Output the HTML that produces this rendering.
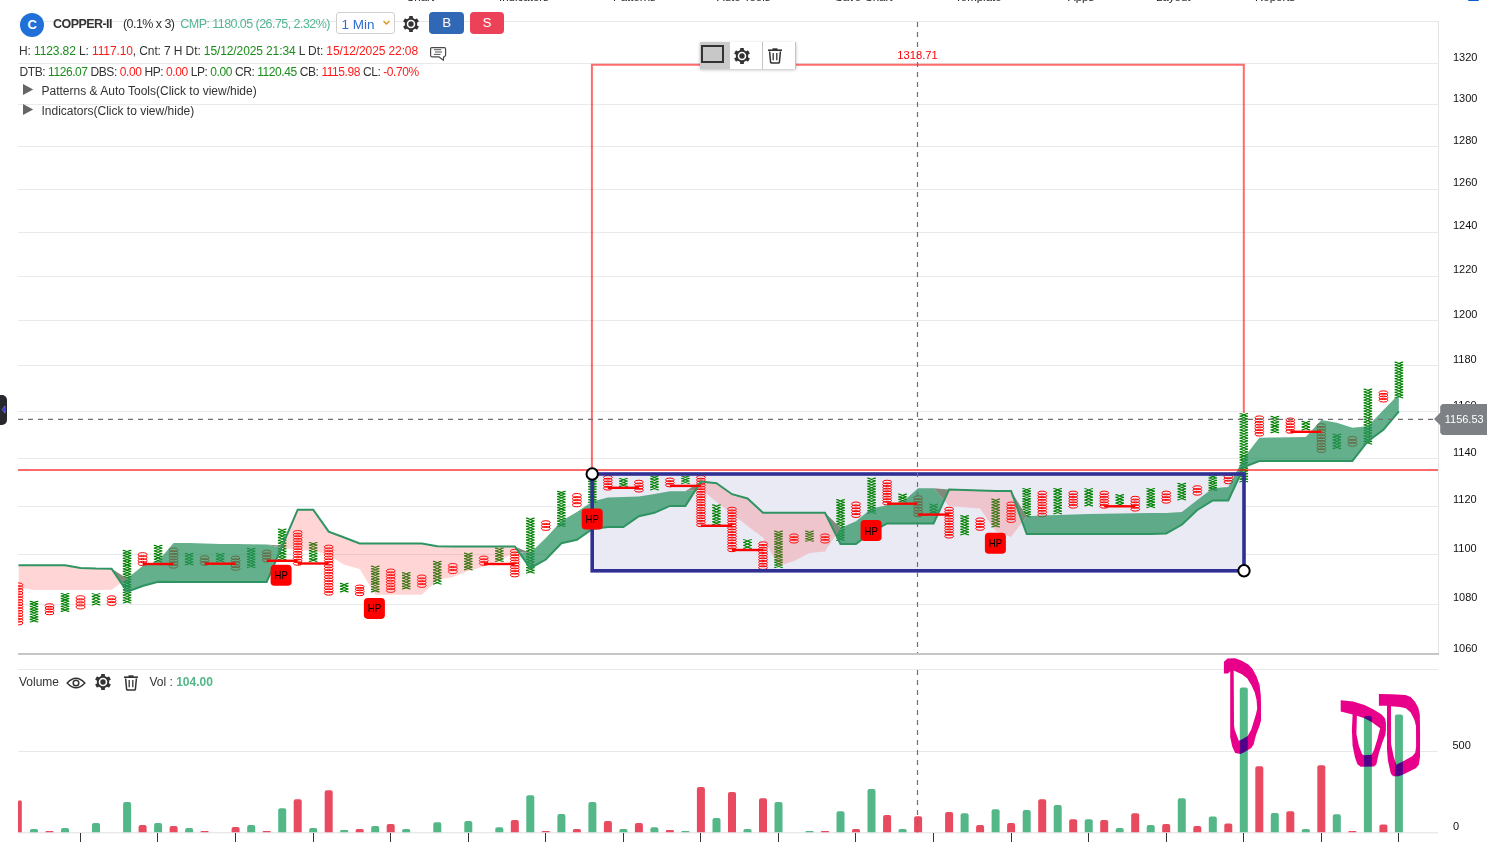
<!DOCTYPE html>
<html><head><meta charset="utf-8">
<style>
html,body{margin:0;padding:0;background:#fff;width:1487px;height:842px;overflow:hidden;font-family:"Liberation Sans",sans-serif;}
.abs{position:absolute;white-space:nowrap;}
svg text{font-family:"Liberation Sans",sans-serif;}
.ax{font-size:11px;fill:#111;}
.lbl{font-size:11.2px;fill:#ff0000;}
.hp{font-size:11px;fill:#000;}
.tag{font-size:11px;fill:#fff;}
.g{color:#1a8c1a} .r{color:#ff1a1a} .d{color:#333}
</style></head><body>
<svg class="abs" style="left:0;top:0" width="1487" height="842" viewBox="0 0 1487 842">
<defs><clipPath id="mainclip"><rect x="18" y="21" width="1420" height="632"/></clipPath></defs>
<line x1="18" y1="604.5" x2="1438" y2="604.5" stroke="#e8eaed" stroke-width="1"/>
<line x1="18" y1="554.5" x2="1438" y2="554.5" stroke="#e8eaed" stroke-width="1"/>
<line x1="18" y1="506.5" x2="1438" y2="506.5" stroke="#e8eaed" stroke-width="1"/>
<line x1="18" y1="458.5" x2="1438" y2="458.5" stroke="#e8eaed" stroke-width="1"/>
<line x1="18" y1="411.5" x2="1438" y2="411.5" stroke="#e8eaed" stroke-width="1"/>
<line x1="18" y1="365.5" x2="1438" y2="365.5" stroke="#e8eaed" stroke-width="1"/>
<line x1="18" y1="320.5" x2="1438" y2="320.5" stroke="#e8eaed" stroke-width="1"/>
<line x1="18" y1="276.5" x2="1438" y2="276.5" stroke="#e8eaed" stroke-width="1"/>
<line x1="18" y1="232.5" x2="1438" y2="232.5" stroke="#e8eaed" stroke-width="1"/>
<line x1="18" y1="189.5" x2="1438" y2="189.5" stroke="#e8eaed" stroke-width="1"/>
<line x1="18" y1="146.5" x2="1438" y2="146.5" stroke="#e8eaed" stroke-width="1"/>
<line x1="18" y1="104.5" x2="1438" y2="104.5" stroke="#e8eaed" stroke-width="1"/>
<line x1="18" y1="63.5" x2="1438" y2="63.5" stroke="#e8eaed" stroke-width="1"/>
<line x1="18" y1="21.5" x2="1438.5" y2="21.5" stroke="#e8e8e8" stroke-width="1"/>
<line x1="1438.5" y1="21" x2="1438.5" y2="654" stroke="#e4e4e4" stroke-width="1"/>
<line x1="18" y1="654" x2="1439" y2="654" stroke="#c6c6c6" stroke-width="2"/>
<line x1="18" y1="669.5" x2="1438" y2="669.5" stroke="#e6e8eb" stroke-width="1"/>
<line x1="18" y1="751.5" x2="1438" y2="751.5" stroke="#e6e8eb" stroke-width="1"/>
<line x1="18" y1="832.8" x2="1438" y2="832.8" stroke="#e0e0e0" stroke-width="1"/>
<text x="1453" y="651.8" class="ax">1060</text>
<text x="1453" y="601.4" class="ax">1080</text>
<text x="1453" y="552.0" class="ax">1100</text>
<text x="1453" y="503.4" class="ax">1120</text>
<text x="1453" y="455.7" class="ax">1140</text>
<text x="1453" y="408.9" class="ax">1160</text>
<text x="1453" y="362.8" class="ax">1180</text>
<text x="1453" y="317.6" class="ax">1200</text>
<text x="1453" y="273.0" class="ax">1220</text>
<text x="1453" y="229.2" class="ax">1240</text>
<text x="1453" y="186.1" class="ax">1260</text>
<text x="1453" y="143.7" class="ax">1280</text>
<text x="1453" y="101.9" class="ax">1300</text>
<text x="1453" y="60.8" class="ax">1320</text>
<text x="1452.5" y="749.3" class="ax">500</text>
<text x="1453" y="830" class="ax">0</text>
<line x1="80.5" y1="833" x2="80.5" y2="842" stroke="#333" stroke-width="1"/>
<line x1="157.5" y1="833" x2="157.5" y2="842" stroke="#333" stroke-width="1"/>
<line x1="235.5" y1="833" x2="235.5" y2="842" stroke="#333" stroke-width="1"/>
<line x1="313.5" y1="833" x2="313.5" y2="842" stroke="#333" stroke-width="1"/>
<line x1="390.5" y1="833" x2="390.5" y2="842" stroke="#333" stroke-width="1"/>
<line x1="468.5" y1="833" x2="468.5" y2="842" stroke="#333" stroke-width="1"/>
<line x1="545.5" y1="833" x2="545.5" y2="842" stroke="#333" stroke-width="1"/>
<line x1="623.5" y1="833" x2="623.5" y2="842" stroke="#333" stroke-width="1"/>
<line x1="700.5" y1="833" x2="700.5" y2="842" stroke="#333" stroke-width="1"/>
<line x1="778.5" y1="833" x2="778.5" y2="842" stroke="#333" stroke-width="1"/>
<line x1="855.5" y1="833" x2="855.5" y2="842" stroke="#333" stroke-width="1"/>
<line x1="933.5" y1="833" x2="933.5" y2="842" stroke="#333" stroke-width="1"/>
<line x1="1011.5" y1="833" x2="1011.5" y2="842" stroke="#333" stroke-width="1"/>
<line x1="1088.5" y1="833" x2="1088.5" y2="842" stroke="#333" stroke-width="1"/>
<line x1="1166.5" y1="833" x2="1166.5" y2="842" stroke="#333" stroke-width="1"/>
<line x1="1243.5" y1="833" x2="1243.5" y2="842" stroke="#333" stroke-width="1"/>
<line x1="1321.5" y1="833" x2="1321.5" y2="842" stroke="#333" stroke-width="1"/>
<line x1="1398.5" y1="833" x2="1398.5" y2="842" stroke="#333" stroke-width="1"/>
<polyline points="591.9,470 591.9,64.8 1243.8,64.8 1243.8,413" fill="none" stroke="#ff0000" stroke-opacity="0.58" stroke-width="2"/>
<text x="917.5" y="59.2" class="lbl" text-anchor="middle">1318.71</text>
<rect x="592.2" y="474" width="651.8" height="96.8" fill="#eaeaf5" stroke="none"/>
<clipPath id="above"><polygon points="18.5,0 18.5,565.3 34.0,565.3 49.5,565.3 65.0,565.3 80.5,568.0 96.0,568.6 111.6,568.8 127.1,591.8 142.6,586.0 158.1,581.7 173.6,581.9 189.1,581.9 204.6,581.9 220.1,581.9 235.6,581.9 251.2,581.9 266.7,581.9 282.2,545.8 297.7,509.7 313.2,509.7 328.7,531.6 344.2,537.5 359.7,543.5 375.2,543.5 390.7,543.5 406.2,543.5 421.8,543.5 437.3,546.3 452.8,546.5 468.3,546.5 483.8,546.5 499.3,546.5 514.8,546.5 530.3,568.1 545.8,559.5 561.4,543.2 576.9,539.8 592.4,529.0 607.9,527.0 623.4,527.0 638.9,516.2 654.4,512.8 669.9,505.9 685.4,505.9 700.9,481.6 716.5,483.3 732.0,494.2 747.5,498.5 763.0,512.7 778.5,512.7 794.0,512.7 809.5,512.7 825.0,512.7 840.5,544.1 856.0,544.1 871.5,532.0 887.1,523.4 902.6,523.4 918.1,523.4 933.6,523.4 949.1,489.6 964.6,490.0 980.1,490.6 995.6,491.0 1011.1,491.1 1026.7,534.1 1042.2,534.1 1057.7,534.1 1073.2,534.1 1088.7,534.1 1104.2,534.1 1119.7,534.1 1135.2,534.1 1150.7,534.1 1166.2,533.4 1181.8,524.8 1197.3,510.0 1212.8,500.4 1228.3,500.4 1243.8,467.0 1259.3,461.0 1274.8,460.9 1290.3,460.9 1305.8,460.9 1321.3,460.9 1336.8,460.9 1352.4,460.9 1367.9,441.2 1383.4,429.8 1398.9,411.3 1398.9,0"/></clipPath>
<clipPath id="below"><polygon points="18.5,842 18.5,565.3 34.0,565.3 49.5,565.3 65.0,565.3 80.5,568.0 96.0,568.6 111.6,568.8 127.1,591.8 142.6,586.0 158.1,581.7 173.6,581.9 189.1,581.9 204.6,581.9 220.1,581.9 235.6,581.9 251.2,581.9 266.7,581.9 282.2,545.8 297.7,509.7 313.2,509.7 328.7,531.6 344.2,537.5 359.7,543.5 375.2,543.5 390.7,543.5 406.2,543.5 421.8,543.5 437.3,546.3 452.8,546.5 468.3,546.5 483.8,546.5 499.3,546.5 514.8,546.5 530.3,568.1 545.8,559.5 561.4,543.2 576.9,539.8 592.4,529.0 607.9,527.0 623.4,527.0 638.9,516.2 654.4,512.8 669.9,505.9 685.4,505.9 700.9,481.6 716.5,483.3 732.0,494.2 747.5,498.5 763.0,512.7 778.5,512.7 794.0,512.7 809.5,512.7 825.0,512.7 840.5,544.1 856.0,544.1 871.5,532.0 887.1,523.4 902.6,523.4 918.1,523.4 933.6,523.4 949.1,489.6 964.6,490.0 980.1,490.6 995.6,491.0 1011.1,491.1 1026.7,534.1 1042.2,534.1 1057.7,534.1 1073.2,534.1 1088.7,534.1 1104.2,534.1 1119.7,534.1 1135.2,534.1 1150.7,534.1 1166.2,533.4 1181.8,524.8 1197.3,510.0 1212.8,500.4 1228.3,500.4 1243.8,467.0 1259.3,461.0 1274.8,460.9 1290.3,460.9 1305.8,460.9 1321.3,460.9 1336.8,460.9 1352.4,460.9 1367.9,441.2 1383.4,429.8 1398.9,411.3 1398.9,842"/></clipPath>
<g clip-path="url(#mainclip)"><g stroke="#ff0000" stroke-width="1.0" fill="none"><ellipse cx="18.5" cy="584.77" rx="4.4" ry="1.86"/><ellipse cx="18.5" cy="587.50" rx="4.4" ry="1.86"/><ellipse cx="18.5" cy="590.23" rx="4.4" ry="1.86"/><ellipse cx="18.5" cy="592.97" rx="4.4" ry="1.86"/><ellipse cx="18.5" cy="595.70" rx="4.4" ry="1.86"/><ellipse cx="18.5" cy="598.43" rx="4.4" ry="1.86"/><ellipse cx="18.5" cy="601.17" rx="4.4" ry="1.86"/><ellipse cx="18.5" cy="603.90" rx="4.4" ry="1.86"/><ellipse cx="18.5" cy="606.63" rx="4.4" ry="1.86"/><ellipse cx="18.5" cy="609.37" rx="4.4" ry="1.86"/><ellipse cx="18.5" cy="612.10" rx="4.4" ry="1.86"/><ellipse cx="18.5" cy="614.83" rx="4.4" ry="1.86"/><ellipse cx="18.5" cy="617.57" rx="4.4" ry="1.86"/><ellipse cx="18.5" cy="620.30" rx="4.4" ry="1.86"/><ellipse cx="18.5" cy="623.03" rx="4.4" ry="1.86"/></g><path d="M29.71 601.30C32.51 601.30 35.51 603.89 38.31 603.89M38.31 601.30C35.51 601.30 32.51 603.89 29.71 603.89M29.71 603.89C32.51 603.89 35.51 606.47 38.31 606.47M38.31 603.89C35.51 603.89 32.51 606.47 29.71 606.47M29.71 606.47C32.51 606.47 35.51 609.06 38.31 609.06M38.31 606.47C35.51 606.47 32.51 609.06 29.71 609.06M29.71 609.06C32.51 609.06 35.51 611.65 38.31 611.65M38.31 609.06C35.51 609.06 32.51 611.65 29.71 611.65M29.71 611.65C32.51 611.65 35.51 614.24 38.31 614.24M38.31 611.65C35.51 611.65 32.51 614.24 29.71 614.24M29.71 614.24C32.51 614.24 35.51 616.82 38.31 616.82M38.31 614.24C35.51 614.24 32.51 616.82 29.71 616.82M29.71 616.83C32.51 616.83 35.51 619.41 38.31 619.41M38.31 616.83C35.51 616.83 32.51 619.41 29.71 619.41M29.71 619.41C32.51 619.41 35.51 622.00 38.31 622.00M38.31 619.41C35.51 619.41 32.51 622.00 29.71 622.00" stroke="#008000" stroke-width="1.2" fill="none"/><g stroke="#ff0000" stroke-width="1.0" fill="none"><ellipse cx="49.5" cy="605.46" rx="4.4" ry="1.72"/><ellipse cx="49.5" cy="607.99" rx="4.4" ry="1.72"/><ellipse cx="49.5" cy="610.51" rx="4.4" ry="1.72"/><ellipse cx="49.5" cy="613.04" rx="4.4" ry="1.72"/></g><path d="M60.73 593.50C63.53 593.50 66.53 596.06 69.33 596.06M69.33 593.50C66.53 593.50 63.53 596.06 60.73 596.06M60.73 596.06C63.53 596.06 66.53 598.61 69.33 598.61M69.33 596.06C66.53 596.06 63.53 598.61 60.73 598.61M60.73 598.61C63.53 598.61 66.53 601.17 69.33 601.17M69.33 598.61C66.53 598.61 63.53 601.17 60.73 601.17M60.73 601.17C63.53 601.17 66.53 603.73 69.33 603.73M69.33 601.17C66.53 601.17 63.53 603.73 60.73 603.73M60.73 603.73C63.53 603.73 66.53 606.29 69.33 606.29M69.33 603.73C66.53 603.73 63.53 606.29 60.73 606.29M60.73 606.29C63.53 606.29 66.53 608.84 69.33 608.84M69.33 606.29C66.53 606.29 63.53 608.84 60.73 608.84M60.73 608.84C63.53 608.84 66.53 611.40 69.33 611.40M69.33 608.84C66.53 608.84 63.53 611.40 60.73 611.40" stroke="#008000" stroke-width="1.2" fill="none"/><g stroke="#ff0000" stroke-width="1.0" fill="none"><ellipse cx="80.5" cy="597.81" rx="4.4" ry="2.06"/><ellipse cx="80.5" cy="600.84" rx="4.4" ry="2.06"/><ellipse cx="80.5" cy="603.86" rx="4.4" ry="2.06"/><ellipse cx="80.5" cy="606.89" rx="4.4" ry="2.06"/></g><path d="M91.75 593.50C94.55 593.50 97.55 596.38 100.35 596.38M100.35 593.50C97.55 593.50 94.55 596.38 91.75 596.38M91.75 596.38C94.55 596.38 97.55 599.25 100.35 599.25M100.35 596.38C97.55 596.38 94.55 599.25 91.75 599.25M91.75 599.25C94.55 599.25 97.55 602.12 100.35 602.12M100.35 599.25C97.55 599.25 94.55 602.12 91.75 602.12M91.75 602.12C94.55 602.12 97.55 605.00 100.35 605.00M100.35 602.12C97.55 602.12 94.55 605.00 91.75 605.00" stroke="#008000" stroke-width="1.2" fill="none"/><g stroke="#ff0000" stroke-width="1.0" fill="none"><ellipse cx="111.6" cy="597.75" rx="4.4" ry="1.97"/><ellipse cx="111.6" cy="600.65" rx="4.4" ry="1.97"/><ellipse cx="111.6" cy="603.55" rx="4.4" ry="1.97"/></g><path d="M122.77 550.40C125.57 550.40 128.57 553.03 131.37 553.03M131.37 550.40C128.57 550.40 125.57 553.03 122.77 553.03M122.77 553.03C125.57 553.03 128.57 555.66 131.37 555.66M131.37 553.03C128.57 553.03 125.57 555.66 122.77 555.66M122.77 555.66C125.57 555.66 128.57 558.29 131.37 558.29M131.37 555.66C128.57 555.66 125.57 558.29 122.77 558.29M122.77 558.29C125.57 558.29 128.57 560.92 131.37 560.92M131.37 558.29C128.57 558.29 125.57 560.92 122.77 560.92M122.77 560.92C125.57 560.92 128.57 563.55 131.37 563.55M131.37 560.92C128.57 560.92 125.57 563.55 122.77 563.55M122.77 563.55C125.57 563.55 128.57 566.18 131.37 566.18M131.37 563.55C128.57 563.55 125.57 566.18 122.77 566.18M122.77 566.18C125.57 566.18 128.57 568.81 131.37 568.81M131.37 566.18C128.57 566.18 125.57 568.81 122.77 568.81M122.77 568.81C125.57 568.81 128.57 571.44 131.37 571.44M131.37 568.81C128.57 568.81 125.57 571.44 122.77 571.44M122.77 571.44C125.57 571.44 128.57 574.07 131.37 574.07M131.37 571.44C128.57 571.44 125.57 574.07 122.77 574.07M122.77 574.07C125.57 574.07 128.57 576.70 131.37 576.70M131.37 574.07C128.57 574.07 125.57 576.70 122.77 576.70M122.77 576.70C125.57 576.70 128.57 579.33 131.37 579.33M131.37 576.70C128.57 576.70 125.57 579.33 122.77 579.33M122.77 579.33C125.57 579.33 128.57 581.96 131.37 581.96M131.37 579.33C128.57 579.33 125.57 581.96 122.77 581.96M122.77 581.96C125.57 581.96 128.57 584.59 131.37 584.59M131.37 581.96C128.57 581.96 125.57 584.59 122.77 584.59M122.77 584.59C125.57 584.59 128.57 587.22 131.37 587.22M131.37 584.59C128.57 584.59 125.57 587.22 122.77 587.22M122.77 587.22C125.57 587.22 128.57 589.85 131.37 589.85M131.37 587.22C128.57 587.22 125.57 589.85 122.77 589.85M122.77 589.85C125.57 589.85 128.57 592.48 131.37 592.48M131.37 589.85C128.57 589.85 125.57 592.48 122.77 592.48M122.77 592.48C125.57 592.48 128.57 595.11 131.37 595.11M131.37 592.48C128.57 592.48 125.57 595.11 122.77 595.11M122.77 595.11C125.57 595.11 128.57 597.74 131.37 597.74M131.37 595.11C128.57 595.11 125.57 597.74 122.77 597.74M122.77 597.74C125.57 597.74 128.57 600.37 131.37 600.37M131.37 597.74C128.57 597.74 125.57 600.37 122.77 600.37M122.77 600.37C125.57 600.37 128.57 603.00 131.37 603.00M131.37 600.37C128.57 600.37 125.57 603.00 122.77 603.00" stroke="#008000" stroke-width="1.2" fill="none"/><g stroke="#ff0000" stroke-width="1.0" fill="none"><ellipse cx="142.6" cy="554.68" rx="4.4" ry="2.01"/><ellipse cx="142.6" cy="557.62" rx="4.4" ry="2.01"/><ellipse cx="142.6" cy="560.58" rx="4.4" ry="2.01"/><ellipse cx="142.6" cy="563.52" rx="4.4" ry="2.01"/></g><path d="M153.79 545.40C156.59 545.40 159.59 548.17 162.39 548.17M162.39 545.40C159.59 545.40 156.59 548.17 153.79 548.17M153.79 548.17C156.59 548.17 159.59 550.93 162.39 550.93M162.39 548.17C159.59 548.17 156.59 550.93 153.79 550.93M153.79 550.93C156.59 550.93 159.59 553.70 162.39 553.70M162.39 550.93C159.59 550.93 156.59 553.70 153.79 553.70M153.79 553.70C156.59 553.70 159.59 556.47 162.39 556.47M162.39 553.70C159.59 553.70 156.59 556.47 153.79 556.47M153.79 556.47C156.59 556.47 159.59 559.23 162.39 559.23M162.39 556.47C159.59 556.47 156.59 559.23 153.79 559.23M153.79 559.23C156.59 559.23 159.59 562.00 162.39 562.00M162.39 559.23C159.59 559.23 156.59 562.00 153.79 562.00" stroke="#008000" stroke-width="1.2" fill="none"/><g stroke="#ff0000" stroke-width="1.0" fill="none"><ellipse cx="173.6" cy="549.78" rx="4.4" ry="1.87"/><ellipse cx="173.6" cy="552.54" rx="4.4" ry="1.87"/><ellipse cx="173.6" cy="555.29" rx="4.4" ry="1.87"/><ellipse cx="173.6" cy="558.05" rx="4.4" ry="1.87"/><ellipse cx="173.6" cy="560.81" rx="4.4" ry="1.87"/><ellipse cx="173.6" cy="563.56" rx="4.4" ry="1.87"/><ellipse cx="173.6" cy="566.32" rx="4.4" ry="1.87"/></g><path d="M184.81 553.40C187.61 553.40 190.61 556.25 193.41 556.25M193.41 553.40C190.61 553.40 187.61 556.25 184.81 556.25M184.81 556.25C187.61 556.25 190.61 559.10 193.41 559.10M193.41 556.25C190.61 556.25 187.61 559.10 184.81 559.10M184.81 559.10C187.61 559.10 190.61 561.95 193.41 561.95M193.41 559.10C190.61 559.10 187.61 561.95 184.81 561.95M184.81 561.95C187.61 561.95 190.61 564.80 193.41 564.80M193.41 561.95C190.61 561.95 187.61 564.80 184.81 564.80" stroke="#008000" stroke-width="1.2" fill="none"/><g stroke="#ff0000" stroke-width="1.0" fill="none"><ellipse cx="204.6" cy="557.72" rx="4.4" ry="1.93"/><ellipse cx="204.6" cy="560.55" rx="4.4" ry="1.93"/><ellipse cx="204.6" cy="563.38" rx="4.4" ry="1.93"/></g><path d="M215.83 553.40C218.63 553.40 221.63 556.27 224.43 556.27M224.43 553.40C221.63 553.40 218.63 556.27 215.83 556.27M215.83 556.27C218.63 556.27 221.63 559.13 224.43 559.13M224.43 556.27C221.63 556.27 218.63 559.13 215.83 559.13M215.83 559.13C218.63 559.13 221.63 562.00 224.43 562.00M224.43 559.13C221.63 559.13 218.63 562.00 215.83 562.00" stroke="#008000" stroke-width="1.2" fill="none"/><g stroke="#ff0000" stroke-width="1.0" fill="none"><ellipse cx="235.6" cy="557.92" rx="4.4" ry="1.80"/><ellipse cx="235.6" cy="560.56" rx="4.4" ry="1.80"/><ellipse cx="235.6" cy="563.20" rx="4.4" ry="1.80"/><ellipse cx="235.6" cy="565.84" rx="4.4" ry="1.80"/><ellipse cx="235.6" cy="568.48" rx="4.4" ry="1.80"/></g><path d="M246.85 548.40C249.65 548.40 252.65 551.16 255.45 551.16M255.45 548.40C252.65 548.40 249.65 551.16 246.85 551.16M246.85 551.16C249.65 551.16 252.65 553.91 255.45 553.91M255.45 551.16C252.65 551.16 249.65 553.91 246.85 553.91M246.85 553.91C249.65 553.91 252.65 556.67 255.45 556.67M255.45 553.91C252.65 553.91 249.65 556.67 246.85 556.67M246.85 556.67C249.65 556.67 252.65 559.43 255.45 559.43M255.45 556.67C252.65 556.67 249.65 559.43 246.85 559.43M246.85 559.43C249.65 559.43 252.65 562.19 255.45 562.19M255.45 559.43C252.65 559.43 249.65 562.19 246.85 562.19M246.85 562.19C249.65 562.19 252.65 564.94 255.45 564.94M255.45 562.19C252.65 562.19 249.65 564.94 246.85 564.94M246.85 564.94C249.65 564.94 252.65 567.70 255.45 567.70M255.45 564.94C252.65 564.94 249.65 567.70 246.85 567.70" stroke="#008000" stroke-width="1.2" fill="none"/><g stroke="#ff0000" stroke-width="1.0" fill="none"><ellipse cx="266.7" cy="551.96" rx="4.4" ry="1.85"/><ellipse cx="266.7" cy="554.69" rx="4.4" ry="1.85"/><ellipse cx="266.7" cy="557.41" rx="4.4" ry="1.85"/><ellipse cx="266.7" cy="560.14" rx="4.4" ry="1.85"/></g><path d="M277.87 529.20C280.67 529.20 283.67 531.98 286.47 531.98M286.47 529.20C283.67 529.20 280.67 531.98 277.87 531.98M277.87 531.98C280.67 531.98 283.67 534.76 286.47 534.76M286.47 531.98C283.67 531.98 280.67 534.76 277.87 534.76M277.87 534.76C280.67 534.76 283.67 537.55 286.47 537.55M286.47 534.76C283.67 534.76 280.67 537.55 277.87 537.55M277.87 537.55C280.67 537.55 283.67 540.33 286.47 540.33M286.47 537.55C283.67 537.55 280.67 540.33 277.87 540.33M277.87 540.33C280.67 540.33 283.67 543.11 286.47 543.11M286.47 540.33C283.67 540.33 280.67 543.11 277.87 543.11M277.87 543.11C280.67 543.11 283.67 545.89 286.47 545.89M286.47 543.11C283.67 543.11 280.67 545.89 277.87 545.89M277.87 545.89C280.67 545.89 283.67 548.67 286.47 548.67M286.47 545.89C283.67 545.89 280.67 548.67 277.87 548.67M277.87 548.67C280.67 548.67 283.67 551.45 286.47 551.45M286.47 548.67C283.67 548.67 280.67 551.45 277.87 551.45M277.87 551.45C280.67 551.45 283.67 554.24 286.47 554.24M286.47 551.45C283.67 551.45 280.67 554.24 277.87 554.24M277.87 554.24C280.67 554.24 283.67 557.02 286.47 557.02M286.47 554.24C283.67 554.24 280.67 557.02 277.87 557.02M277.87 557.02C280.67 557.02 283.67 559.80 286.47 559.80M286.47 557.02C283.67 557.02 280.67 559.80 277.87 559.80" stroke="#008000" stroke-width="1.2" fill="none"/><g stroke="#ff0000" stroke-width="1.0" fill="none"><ellipse cx="297.7" cy="532.30" rx="4.4" ry="1.77"/><ellipse cx="297.7" cy="534.90" rx="4.4" ry="1.77"/><ellipse cx="297.7" cy="537.50" rx="4.4" ry="1.77"/><ellipse cx="297.7" cy="540.10" rx="4.4" ry="1.77"/><ellipse cx="297.7" cy="542.70" rx="4.4" ry="1.77"/><ellipse cx="297.7" cy="545.30" rx="4.4" ry="1.77"/><ellipse cx="297.7" cy="547.90" rx="4.4" ry="1.77"/><ellipse cx="297.7" cy="550.50" rx="4.4" ry="1.77"/><ellipse cx="297.7" cy="553.10" rx="4.4" ry="1.77"/><ellipse cx="297.7" cy="555.70" rx="4.4" ry="1.77"/><ellipse cx="297.7" cy="558.30" rx="4.4" ry="1.77"/><ellipse cx="297.7" cy="560.90" rx="4.4" ry="1.77"/><ellipse cx="297.7" cy="563.50" rx="4.4" ry="1.77"/></g><path d="M308.89 542.50C311.69 542.50 314.69 545.21 317.49 545.21M317.49 542.50C314.69 542.50 311.69 545.21 308.89 545.21M308.89 545.21C311.69 545.21 314.69 547.93 317.49 547.93M317.49 545.21C314.69 545.21 311.69 547.93 308.89 547.93M308.89 547.93C311.69 547.93 314.69 550.64 317.49 550.64M317.49 547.93C314.69 547.93 311.69 550.64 308.89 550.64M308.89 550.64C311.69 550.64 314.69 553.36 317.49 553.36M317.49 550.64C314.69 550.64 311.69 553.36 308.89 553.36M308.89 553.36C311.69 553.36 314.69 556.07 317.49 556.07M317.49 553.36C314.69 553.36 311.69 556.07 308.89 556.07M308.89 556.07C311.69 556.07 314.69 558.79 317.49 558.79M317.49 556.07C314.69 556.07 311.69 558.79 308.89 558.79M308.89 558.79C311.69 558.79 314.69 561.50 317.49 561.50M317.49 558.79C314.69 558.79 311.69 561.50 308.89 561.50" stroke="#008000" stroke-width="1.2" fill="none"/><g stroke="#ff0000" stroke-width="1.0" fill="none"><ellipse cx="328.7" cy="546.96" rx="4.4" ry="1.85"/><ellipse cx="328.7" cy="549.69" rx="4.4" ry="1.85"/><ellipse cx="328.7" cy="552.42" rx="4.4" ry="1.85"/><ellipse cx="328.7" cy="555.15" rx="4.4" ry="1.85"/><ellipse cx="328.7" cy="557.88" rx="4.4" ry="1.85"/><ellipse cx="328.7" cy="560.60" rx="4.4" ry="1.85"/><ellipse cx="328.7" cy="563.33" rx="4.4" ry="1.85"/><ellipse cx="328.7" cy="566.06" rx="4.4" ry="1.85"/><ellipse cx="328.7" cy="568.79" rx="4.4" ry="1.85"/><ellipse cx="328.7" cy="571.51" rx="4.4" ry="1.85"/><ellipse cx="328.7" cy="574.24" rx="4.4" ry="1.85"/><ellipse cx="328.7" cy="576.97" rx="4.4" ry="1.85"/><ellipse cx="328.7" cy="579.70" rx="4.4" ry="1.85"/><ellipse cx="328.7" cy="582.43" rx="4.4" ry="1.85"/><ellipse cx="328.7" cy="585.15" rx="4.4" ry="1.85"/><ellipse cx="328.7" cy="587.88" rx="4.4" ry="1.85"/><ellipse cx="328.7" cy="590.61" rx="4.4" ry="1.85"/><ellipse cx="328.7" cy="593.34" rx="4.4" ry="1.85"/></g><path d="M339.91 583.30C342.71 583.30 345.71 586.17 348.51 586.17M348.51 583.30C345.71 583.30 342.71 586.17 339.91 586.17M339.91 586.17C342.71 586.17 345.71 589.03 348.51 589.03M348.51 586.17C345.71 586.17 342.71 589.03 339.91 589.03M339.91 589.03C342.71 589.03 345.71 591.90 348.51 591.90M348.51 589.03C345.71 589.03 342.71 591.90 339.91 591.90" stroke="#008000" stroke-width="1.2" fill="none"/><g stroke="#ff0000" stroke-width="1.0" fill="none"><ellipse cx="359.7" cy="586.71" rx="4.4" ry="1.65"/><ellipse cx="359.7" cy="589.14" rx="4.4" ry="1.65"/><ellipse cx="359.7" cy="591.56" rx="4.4" ry="1.65"/><ellipse cx="359.7" cy="593.99" rx="4.4" ry="1.65"/></g><path d="M370.93 566.20C373.73 566.20 376.73 568.77 379.53 568.77M379.53 566.20C376.73 566.20 373.73 568.77 370.93 568.77M370.93 568.77C373.73 568.77 376.73 571.34 379.53 571.34M379.53 568.77C376.73 568.77 373.73 571.34 370.93 571.34M370.93 571.34C373.73 571.34 376.73 573.91 379.53 573.91M379.53 571.34C376.73 571.34 373.73 573.91 370.93 573.91M370.93 573.91C373.73 573.91 376.73 576.48 379.53 576.48M379.53 573.91C376.73 573.91 373.73 576.48 370.93 576.48M370.93 576.48C373.73 576.48 376.73 579.05 379.53 579.05M379.53 576.48C376.73 576.48 373.73 579.05 370.93 579.05M370.93 579.05C373.73 579.05 376.73 581.62 379.53 581.62M379.53 579.05C376.73 579.05 373.73 581.62 370.93 581.62M370.93 581.62C373.73 581.62 376.73 584.19 379.53 584.19M379.53 581.62C376.73 581.62 373.73 584.19 370.93 584.19M370.93 584.19C373.73 584.19 376.73 586.76 379.53 586.76M379.53 584.19C376.73 584.19 373.73 586.76 370.93 586.76M370.93 586.76C373.73 586.76 376.73 589.33 379.53 589.33M379.53 586.76C376.73 586.76 373.73 589.33 370.93 589.33M370.93 589.33C373.73 589.33 376.73 591.90 379.53 591.90M379.53 589.33C376.73 589.33 373.73 591.90 370.93 591.90" stroke="#008000" stroke-width="1.2" fill="none"/><g stroke="#ff0000" stroke-width="1.0" fill="none"><ellipse cx="390.7" cy="570.90" rx="4.4" ry="1.90"/><ellipse cx="390.7" cy="573.70" rx="4.4" ry="1.90"/><ellipse cx="390.7" cy="576.50" rx="4.4" ry="1.90"/><ellipse cx="390.7" cy="579.30" rx="4.4" ry="1.90"/><ellipse cx="390.7" cy="582.10" rx="4.4" ry="1.90"/><ellipse cx="390.7" cy="584.90" rx="4.4" ry="1.90"/><ellipse cx="390.7" cy="587.70" rx="4.4" ry="1.90"/><ellipse cx="390.7" cy="590.50" rx="4.4" ry="1.90"/></g><path d="M401.95 572.70C404.75 572.70 407.75 575.42 410.55 575.42M410.55 572.70C407.75 572.70 404.75 575.42 401.95 575.42M401.95 575.42C404.75 575.42 407.75 578.13 410.55 578.13M410.55 575.42C407.75 575.42 404.75 578.13 401.95 578.13M401.95 578.13C404.75 578.13 407.75 580.85 410.55 580.85M410.55 578.13C407.75 578.13 404.75 580.85 401.95 580.85M401.95 580.85C404.75 580.85 407.75 583.57 410.55 583.57M410.55 580.85C407.75 580.85 404.75 583.57 401.95 583.57M401.95 583.57C404.75 583.57 407.75 586.28 410.55 586.28M410.55 583.57C407.75 583.57 404.75 586.28 401.95 586.28M401.95 586.28C404.75 586.28 407.75 589.00 410.55 589.00M410.55 586.28C407.75 586.28 404.75 589.00 401.95 589.00" stroke="#008000" stroke-width="1.2" fill="none"/><g stroke="#ff0000" stroke-width="1.0" fill="none"><ellipse cx="421.8" cy="576.92" rx="4.4" ry="1.94"/><ellipse cx="421.8" cy="579.77" rx="4.4" ry="1.94"/><ellipse cx="421.8" cy="582.62" rx="4.4" ry="1.94"/><ellipse cx="421.8" cy="585.48" rx="4.4" ry="1.94"/></g><path d="M432.97 561.30C435.77 561.30 438.77 564.15 441.57 564.15M441.57 561.30C438.77 561.30 435.77 564.15 432.97 564.15M432.97 564.15C435.77 564.15 438.77 567.00 441.57 567.00M441.57 564.15C438.77 564.15 435.77 567.00 432.97 567.00M432.97 567.00C435.77 567.00 438.77 569.85 441.57 569.85M441.57 567.00C438.77 567.00 435.77 569.85 432.97 569.85M432.97 569.85C435.77 569.85 438.77 572.70 441.57 572.70M441.57 569.85C438.77 569.85 435.77 572.70 432.97 572.70M432.97 572.70C435.77 572.70 438.77 575.55 441.57 575.55M441.57 572.70C438.77 572.70 435.77 575.55 432.97 575.55M432.97 575.55C435.77 575.55 438.77 578.40 441.57 578.40M441.57 575.55C438.77 575.55 435.77 578.40 432.97 578.40M432.97 578.40C435.77 578.40 438.77 581.25 441.57 581.25M441.57 578.40C438.77 578.40 435.77 581.25 432.97 581.25M432.97 581.25C435.77 581.25 438.77 584.10 441.57 584.10M441.57 581.25C438.77 581.25 435.77 584.10 432.97 584.10" stroke="#008000" stroke-width="1.2" fill="none"/><g stroke="#ff0000" stroke-width="1.0" fill="none"><ellipse cx="452.8" cy="565.58" rx="4.4" ry="2.02"/><ellipse cx="452.8" cy="568.55" rx="4.4" ry="2.02"/><ellipse cx="452.8" cy="571.52" rx="4.4" ry="2.02"/></g><path d="M463.99 553.20C466.79 553.20 469.79 555.97 472.59 555.97M472.59 553.20C469.79 553.20 466.79 555.97 463.99 555.97M463.99 555.97C466.79 555.97 469.79 558.73 472.59 558.73M472.59 555.97C469.79 555.97 466.79 558.73 463.99 558.73M463.99 558.73C466.79 558.73 469.79 561.50 472.59 561.50M472.59 558.73C469.79 558.73 466.79 561.50 463.99 561.50M463.99 561.50C466.79 561.50 469.79 564.27 472.59 564.27M472.59 561.50C469.79 561.50 466.79 564.27 463.99 564.27M463.99 564.27C466.79 564.27 469.79 567.03 472.59 567.03M472.59 564.27C469.79 564.27 466.79 567.03 463.99 567.03M463.99 567.03C466.79 567.03 469.79 569.80 472.59 569.80M472.59 567.03C469.79 567.03 466.79 569.80 463.99 569.80" stroke="#008000" stroke-width="1.2" fill="none"/><g stroke="#ff0000" stroke-width="1.0" fill="none"><ellipse cx="483.8" cy="557.88" rx="4.4" ry="1.88"/><ellipse cx="483.8" cy="560.65" rx="4.4" ry="1.88"/><ellipse cx="483.8" cy="563.42" rx="4.4" ry="1.88"/></g><path d="M495.01 548.20C497.81 548.20 500.81 550.86 503.61 550.86M503.61 548.20C500.81 548.20 497.81 550.86 495.01 550.86M495.01 550.86C497.81 550.86 500.81 553.52 503.61 553.52M503.61 550.86C500.81 550.86 497.81 553.52 495.01 553.52M495.01 553.52C497.81 553.52 500.81 556.18 503.61 556.18M503.61 553.52C500.81 553.52 497.81 556.18 495.01 556.18M495.01 556.18C497.81 556.18 500.81 558.84 503.61 558.84M503.61 556.18C500.81 556.18 497.81 558.84 495.01 558.84M495.01 558.84C497.81 558.84 500.81 561.50 503.61 561.50M503.61 558.84C500.81 558.84 497.81 561.50 495.01 561.50" stroke="#008000" stroke-width="1.2" fill="none"/><g stroke="#ff0000" stroke-width="1.0" fill="none"><ellipse cx="514.8" cy="551.13" rx="4.4" ry="1.81"/><ellipse cx="514.8" cy="553.79" rx="4.4" ry="1.81"/><ellipse cx="514.8" cy="556.45" rx="4.4" ry="1.81"/><ellipse cx="514.8" cy="559.11" rx="4.4" ry="1.81"/><ellipse cx="514.8" cy="561.77" rx="4.4" ry="1.81"/><ellipse cx="514.8" cy="564.43" rx="4.4" ry="1.81"/><ellipse cx="514.8" cy="567.09" rx="4.4" ry="1.81"/><ellipse cx="514.8" cy="569.75" rx="4.4" ry="1.81"/><ellipse cx="514.8" cy="572.41" rx="4.4" ry="1.81"/><ellipse cx="514.8" cy="575.07" rx="4.4" ry="1.81"/></g><path d="M526.03 518.20C528.83 518.20 531.83 520.95 534.63 520.95M534.63 518.20C531.83 518.20 528.83 520.95 526.03 520.95M526.03 520.95C528.83 520.95 531.83 523.69 534.63 523.69M534.63 520.95C531.83 520.95 528.83 523.69 526.03 523.69M526.03 523.69C528.83 523.69 531.83 526.44 534.63 526.44M534.63 523.69C531.83 523.69 528.83 526.44 526.03 526.44M526.03 526.44C528.83 526.44 531.83 529.18 534.63 529.18M534.63 526.44C531.83 526.44 528.83 529.18 526.03 529.18M526.03 529.18C528.83 529.18 531.83 531.93 534.63 531.93M534.63 529.18C531.83 529.18 528.83 531.93 526.03 531.93M526.03 531.93C528.83 531.93 531.83 534.67 534.63 534.67M534.63 531.93C531.83 531.93 528.83 534.67 526.03 534.67M526.03 534.67C528.83 534.67 531.83 537.42 534.63 537.42M534.63 534.67C531.83 534.67 528.83 537.42 526.03 537.42M526.03 537.42C528.83 537.42 531.83 540.16 534.63 540.16M534.63 537.42C531.83 537.42 528.83 540.16 526.03 540.16M526.03 540.16C528.83 540.16 531.83 542.91 534.63 542.91M534.63 540.16C531.83 540.16 528.83 542.91 526.03 542.91M526.03 542.91C528.83 542.91 531.83 545.65 534.63 545.65M534.63 542.91C531.83 542.91 528.83 545.65 526.03 545.65M526.03 545.65C528.83 545.65 531.83 548.40 534.63 548.40M534.63 545.65C531.83 545.65 528.83 548.40 526.03 548.40M526.03 548.39C528.83 548.39 531.83 551.14 534.63 551.14M534.63 548.39C531.83 548.39 528.83 551.14 526.03 551.14M526.03 551.14C528.83 551.14 531.83 553.88 534.63 553.88M534.63 551.14C531.83 551.14 528.83 553.88 526.03 553.88M526.03 553.88C528.83 553.88 531.83 556.63 534.63 556.63M534.63 553.88C531.83 553.88 528.83 556.63 526.03 556.63M526.03 556.63C528.83 556.63 531.83 559.38 534.63 559.38M534.63 556.63C531.83 556.63 528.83 559.38 526.03 559.38M526.03 559.38C528.83 559.38 531.83 562.12 534.63 562.12M534.63 559.38C531.83 559.38 528.83 562.12 526.03 562.12M526.03 562.12C528.83 562.12 531.83 564.87 534.63 564.87M534.63 562.12C531.83 562.12 528.83 564.87 526.03 564.87M526.03 564.87C528.83 564.87 531.83 567.61 534.63 567.61M534.63 564.87C531.83 564.87 528.83 567.61 526.03 567.61M526.03 567.61C528.83 567.61 531.83 570.36 534.63 570.36M534.63 567.61C531.83 567.61 528.83 570.36 526.03 570.36M526.03 570.36C528.83 570.36 531.83 573.10 534.63 573.10M534.63 570.36C531.83 570.36 528.83 573.10 526.03 573.10" stroke="#008000" stroke-width="1.2" fill="none"/><g stroke="#ff0000" stroke-width="1.0" fill="none"><ellipse cx="545.8" cy="522.65" rx="4.4" ry="1.97"/><ellipse cx="545.8" cy="525.55" rx="4.4" ry="1.97"/><ellipse cx="545.8" cy="528.45" rx="4.4" ry="1.97"/></g><path d="M557.05 491.30C559.85 491.30 562.85 494.01 565.65 494.01M565.65 491.30C562.85 491.30 559.85 494.01 557.05 494.01M557.05 494.01C559.85 494.01 562.85 496.72 565.65 496.72M565.65 494.01C562.85 494.01 559.85 496.72 557.05 496.72M557.05 496.72C559.85 496.72 562.85 499.42 565.65 499.42M565.65 496.72C562.85 496.72 559.85 499.42 557.05 499.42M557.05 499.42C559.85 499.42 562.85 502.13 565.65 502.13M565.65 499.42C562.85 499.42 559.85 502.13 557.05 502.13M557.05 502.13C559.85 502.13 562.85 504.84 565.65 504.84M565.65 502.13C562.85 502.13 559.85 504.84 557.05 504.84M557.05 504.84C559.85 504.84 562.85 507.55 565.65 507.55M565.65 504.84C562.85 504.84 559.85 507.55 557.05 507.55M557.05 507.55C559.85 507.55 562.85 510.25 565.65 510.25M565.65 507.55C562.85 507.55 559.85 510.25 557.05 510.25M557.05 510.25C559.85 510.25 562.85 512.96 565.65 512.96M565.65 510.25C562.85 510.25 559.85 512.96 557.05 512.96M557.05 512.96C559.85 512.96 562.85 515.67 565.65 515.67M565.65 512.96C562.85 512.96 559.85 515.67 557.05 515.67M557.05 515.67C559.85 515.67 562.85 518.38 565.65 518.38M565.65 515.67C562.85 515.67 559.85 518.38 557.05 518.38M557.05 518.38C559.85 518.38 562.85 521.08 565.65 521.08M565.65 518.38C562.85 518.38 559.85 521.08 557.05 521.08M557.05 521.08C559.85 521.08 562.85 523.79 565.65 523.79M565.65 521.08C562.85 521.08 559.85 523.79 557.05 523.79M557.05 523.79C559.85 523.79 562.85 526.50 565.65 526.50M565.65 523.79C562.85 523.79 559.85 526.50 557.05 526.50" stroke="#008000" stroke-width="1.2" fill="none"/><g stroke="#ff0000" stroke-width="1.0" fill="none"><ellipse cx="576.9" cy="495.61" rx="4.4" ry="2.06"/><ellipse cx="576.9" cy="498.64" rx="4.4" ry="2.06"/><ellipse cx="576.9" cy="501.66" rx="4.4" ry="2.06"/><ellipse cx="576.9" cy="504.69" rx="4.4" ry="2.06"/></g><path d="M588.07 473.50C590.87 473.50 593.87 476.13 596.67 476.13M596.67 473.50C593.87 473.50 590.87 476.13 588.07 476.13M588.07 476.13C590.87 476.13 593.87 478.75 596.67 478.75M596.67 476.13C593.87 476.13 590.87 478.75 588.07 478.75M588.07 478.75C590.87 478.75 593.87 481.38 596.67 481.38M596.67 478.75C593.87 478.75 590.87 481.38 588.07 481.38M588.07 481.38C590.87 481.38 593.87 484.01 596.67 484.01M596.67 481.38C593.87 481.38 590.87 484.01 588.07 484.01M588.07 484.01C590.87 484.01 593.87 486.64 596.67 486.64M596.67 484.01C593.87 484.01 590.87 486.64 588.07 486.64M588.07 486.64C590.87 486.64 593.87 489.26 596.67 489.26M596.67 486.64C593.87 486.64 590.87 489.26 588.07 489.26M588.07 489.26C590.87 489.26 593.87 491.89 596.67 491.89M596.67 489.26C593.87 489.26 590.87 491.89 588.07 491.89M588.07 491.89C590.87 491.89 593.87 494.52 596.67 494.52M596.67 491.89C593.87 491.89 590.87 494.52 588.07 494.52M588.07 494.52C590.87 494.52 593.87 497.15 596.67 497.15M596.67 494.52C593.87 494.52 590.87 497.15 588.07 497.15M588.07 497.15C590.87 497.15 593.87 499.77 596.67 499.77M596.67 497.15C593.87 497.15 590.87 499.77 588.07 499.77M588.07 499.77C590.87 499.77 593.87 502.40 596.67 502.40M596.67 499.77C593.87 499.77 590.87 502.40 588.07 502.40" stroke="#008000" stroke-width="1.2" fill="none"/><g stroke="#ff0000" stroke-width="1.0" fill="none"><ellipse cx="607.9" cy="477.36" rx="4.4" ry="1.85"/><ellipse cx="607.9" cy="480.08" rx="4.4" ry="1.85"/><ellipse cx="607.9" cy="482.80" rx="4.4" ry="1.85"/><ellipse cx="607.9" cy="485.52" rx="4.4" ry="1.85"/><ellipse cx="607.9" cy="488.24" rx="4.4" ry="1.85"/></g><path d="M619.09 478.50C621.89 478.50 624.89 481.13 627.69 481.13M627.69 478.50C624.89 478.50 621.89 481.13 619.09 481.13M619.09 481.13C621.89 481.13 624.89 483.77 627.69 483.77M627.69 481.13C624.89 481.13 621.89 483.77 619.09 483.77M619.09 483.77C621.89 483.77 624.89 486.40 627.69 486.40M627.69 483.77C624.89 483.77 621.89 486.40 619.09 486.40" stroke="#008000" stroke-width="1.2" fill="none"/><g stroke="#ff0000" stroke-width="1.0" fill="none"><ellipse cx="638.9" cy="482.06" rx="4.4" ry="1.85"/><ellipse cx="638.9" cy="484.79" rx="4.4" ry="1.85"/><ellipse cx="638.9" cy="487.51" rx="4.4" ry="1.85"/><ellipse cx="638.9" cy="490.24" rx="4.4" ry="1.85"/></g><path d="M650.11 476.00C652.91 476.00 655.91 478.78 658.71 478.78M658.71 476.00C655.91 476.00 652.91 478.78 650.11 478.78M650.11 478.78C652.91 478.78 655.91 481.56 658.71 481.56M658.71 478.78C655.91 478.78 652.91 481.56 650.11 481.56M650.11 481.56C652.91 481.56 655.91 484.34 658.71 484.34M658.71 481.56C655.91 481.56 652.91 484.34 650.11 484.34M650.11 484.34C652.91 484.34 655.91 487.12 658.71 487.12M658.71 484.34C655.91 484.34 652.91 487.12 650.11 487.12M650.11 487.12C652.91 487.12 655.91 489.90 658.71 489.90M658.71 487.12C655.91 487.12 652.91 489.90 650.11 489.90" stroke="#008000" stroke-width="1.2" fill="none"/><g stroke="#ff0000" stroke-width="1.0" fill="none"><ellipse cx="669.9" cy="479.82" rx="4.4" ry="1.79"/><ellipse cx="669.9" cy="482.45" rx="4.4" ry="1.79"/><ellipse cx="669.9" cy="485.08" rx="4.4" ry="1.79"/></g><path d="M681.13 476.00C683.93 476.00 686.93 478.50 689.73 478.50M689.73 476.00C686.93 476.00 683.93 478.50 681.13 478.50M681.13 478.50C683.93 478.50 686.93 481.00 689.73 481.00M689.73 478.50C686.93 478.50 683.93 481.00 681.13 481.00M681.13 481.00C683.93 481.00 686.93 483.50 689.73 483.50M689.73 481.00C686.93 481.00 683.93 483.50 681.13 483.50" stroke="#008000" stroke-width="1.2" fill="none"/><g stroke="#ff0000" stroke-width="1.0" fill="none"><ellipse cx="700.9" cy="477.32" rx="4.4" ry="1.80"/><ellipse cx="700.9" cy="479.96" rx="4.4" ry="1.80"/><ellipse cx="700.9" cy="482.61" rx="4.4" ry="1.80"/><ellipse cx="700.9" cy="485.25" rx="4.4" ry="1.80"/><ellipse cx="700.9" cy="487.89" rx="4.4" ry="1.80"/><ellipse cx="700.9" cy="490.53" rx="4.4" ry="1.80"/><ellipse cx="700.9" cy="493.17" rx="4.4" ry="1.80"/><ellipse cx="700.9" cy="495.82" rx="4.4" ry="1.80"/><ellipse cx="700.9" cy="498.46" rx="4.4" ry="1.80"/><ellipse cx="700.9" cy="501.10" rx="4.4" ry="1.80"/><ellipse cx="700.9" cy="503.74" rx="4.4" ry="1.80"/><ellipse cx="700.9" cy="506.38" rx="4.4" ry="1.80"/><ellipse cx="700.9" cy="509.03" rx="4.4" ry="1.80"/><ellipse cx="700.9" cy="511.67" rx="4.4" ry="1.80"/><ellipse cx="700.9" cy="514.31" rx="4.4" ry="1.80"/><ellipse cx="700.9" cy="516.95" rx="4.4" ry="1.80"/><ellipse cx="700.9" cy="519.59" rx="4.4" ry="1.80"/><ellipse cx="700.9" cy="522.24" rx="4.4" ry="1.80"/><ellipse cx="700.9" cy="524.88" rx="4.4" ry="1.80"/></g><path d="M712.15 504.90C714.95 504.90 717.95 507.74 720.75 507.74M720.75 504.90C717.95 504.90 714.95 507.74 712.15 507.74M712.15 507.74C714.95 507.74 717.95 510.59 720.75 510.59M720.75 507.74C717.95 507.74 714.95 510.59 712.15 510.59M712.15 510.59C714.95 510.59 717.95 513.43 720.75 513.43M720.75 510.59C717.95 510.59 714.95 513.43 712.15 513.43M712.15 513.43C714.95 513.43 717.95 516.27 720.75 516.27M720.75 513.43C717.95 513.43 714.95 516.27 712.15 516.27M712.15 516.27C714.95 516.27 717.95 519.11 720.75 519.11M720.75 516.27C717.95 516.27 714.95 519.11 712.15 519.11M712.15 519.11C714.95 519.11 717.95 521.96 720.75 521.96M720.75 519.11C717.95 519.11 714.95 521.96 712.15 521.96M712.15 521.96C714.95 521.96 717.95 524.80 720.75 524.80M720.75 521.96C717.95 521.96 714.95 524.80 712.15 524.80" stroke="#008000" stroke-width="1.2" fill="none"/><g stroke="#ff0000" stroke-width="1.0" fill="none"><ellipse cx="732.0" cy="509.06" rx="4.4" ry="1.85"/><ellipse cx="732.0" cy="511.78" rx="4.4" ry="1.85"/><ellipse cx="732.0" cy="514.50" rx="4.4" ry="1.85"/><ellipse cx="732.0" cy="517.22" rx="4.4" ry="1.85"/><ellipse cx="732.0" cy="519.93" rx="4.4" ry="1.85"/><ellipse cx="732.0" cy="522.65" rx="4.4" ry="1.85"/><ellipse cx="732.0" cy="525.37" rx="4.4" ry="1.85"/><ellipse cx="732.0" cy="528.09" rx="4.4" ry="1.85"/><ellipse cx="732.0" cy="530.81" rx="4.4" ry="1.85"/><ellipse cx="732.0" cy="533.53" rx="4.4" ry="1.85"/><ellipse cx="732.0" cy="536.25" rx="4.4" ry="1.85"/><ellipse cx="732.0" cy="538.97" rx="4.4" ry="1.85"/><ellipse cx="732.0" cy="541.68" rx="4.4" ry="1.85"/><ellipse cx="732.0" cy="544.40" rx="4.4" ry="1.85"/><ellipse cx="732.0" cy="547.12" rx="4.4" ry="1.85"/><ellipse cx="732.0" cy="549.84" rx="4.4" ry="1.85"/></g><path d="M743.17 539.50C745.97 539.50 748.97 542.50 751.77 542.50M751.77 539.50C748.97 539.50 745.97 542.50 743.17 542.50M743.17 542.50C745.97 542.50 748.97 545.50 751.77 545.50M751.77 542.50C748.97 542.50 745.97 545.50 743.17 545.50M743.17 545.50C745.97 545.50 748.97 548.50 751.77 548.50M751.77 545.50C748.97 545.50 745.97 548.50 743.17 548.50" stroke="#008000" stroke-width="1.2" fill="none"/><g stroke="#ff0000" stroke-width="1.0" fill="none"><ellipse cx="763.0" cy="543.63" rx="4.4" ry="1.82"/><ellipse cx="763.0" cy="546.30" rx="4.4" ry="1.82"/><ellipse cx="763.0" cy="548.97" rx="4.4" ry="1.82"/><ellipse cx="763.0" cy="551.64" rx="4.4" ry="1.82"/><ellipse cx="763.0" cy="554.31" rx="4.4" ry="1.82"/><ellipse cx="763.0" cy="556.99" rx="4.4" ry="1.82"/><ellipse cx="763.0" cy="559.65" rx="4.4" ry="1.82"/><ellipse cx="763.0" cy="562.33" rx="4.4" ry="1.82"/><ellipse cx="763.0" cy="565.00" rx="4.4" ry="1.82"/><ellipse cx="763.0" cy="567.66" rx="4.4" ry="1.82"/></g><path d="M774.19 531.20C776.99 531.20 779.99 533.80 782.79 533.80M782.79 531.20C779.99 531.20 776.99 533.80 774.19 533.80M774.19 533.80C776.99 533.80 779.99 536.40 782.79 536.40M782.79 533.80C779.99 533.80 776.99 536.40 774.19 536.40M774.19 536.40C776.99 536.40 779.99 539.00 782.79 539.00M782.79 536.40C779.99 536.40 776.99 539.00 774.19 539.00M774.19 539.00C776.99 539.00 779.99 541.60 782.79 541.60M782.79 539.00C779.99 539.00 776.99 541.60 774.19 541.60M774.19 541.60C776.99 541.60 779.99 544.20 782.79 544.20M782.79 541.60C779.99 541.60 776.99 544.20 774.19 544.20M774.19 544.20C776.99 544.20 779.99 546.80 782.79 546.80M782.79 544.20C779.99 544.20 776.99 546.80 774.19 546.80M774.19 546.80C776.99 546.80 779.99 549.40 782.79 549.40M782.79 546.80C779.99 546.80 776.99 549.40 774.19 549.40M774.19 549.40C776.99 549.40 779.99 552.00 782.79 552.00M782.79 549.40C779.99 549.40 776.99 552.00 774.19 552.00M774.19 552.00C776.99 552.00 779.99 554.60 782.79 554.60M782.79 552.00C779.99 552.00 776.99 554.60 774.19 554.60M774.19 554.60C776.99 554.60 779.99 557.20 782.79 557.20M782.79 554.60C779.99 554.60 776.99 557.20 774.19 557.20M774.19 557.20C776.99 557.20 779.99 559.80 782.79 559.80M782.79 557.20C779.99 557.20 776.99 559.80 774.19 559.80M774.19 559.80C776.99 559.80 779.99 562.40 782.79 562.40M782.79 559.80C779.99 559.80 776.99 562.40 774.19 562.40M774.19 562.40C776.99 562.40 779.99 565.00 782.79 565.00M782.79 562.40C779.99 562.40 776.99 565.00 774.19 565.00M774.19 565.00C776.99 565.00 779.99 567.60 782.79 567.60M782.79 565.00C779.99 565.00 776.99 567.60 774.19 567.60" stroke="#008000" stroke-width="1.2" fill="none"/><g stroke="#ff0000" stroke-width="1.0" fill="none"><ellipse cx="794.0" cy="535.77" rx="4.4" ry="1.86"/><ellipse cx="794.0" cy="538.50" rx="4.4" ry="1.86"/><ellipse cx="794.0" cy="541.23" rx="4.4" ry="1.86"/></g><path d="M805.21 531.20C808.01 531.20 811.01 533.70 813.81 533.70M813.81 531.20C811.01 531.20 808.01 533.70 805.21 533.70M805.21 533.70C808.01 533.70 811.01 536.20 813.81 536.20M813.81 533.70C811.01 533.70 808.01 536.20 805.21 536.20M805.21 536.20C808.01 536.20 811.01 538.70 813.81 538.70M813.81 536.20C811.01 536.20 808.01 538.70 805.21 538.70M805.21 538.70C808.01 538.70 811.01 541.20 813.81 541.20M813.81 538.70C811.01 538.70 808.01 541.20 805.21 541.20" stroke="#008000" stroke-width="1.2" fill="none"/><g stroke="#ff0000" stroke-width="1.0" fill="none"><ellipse cx="825.0" cy="535.77" rx="4.4" ry="1.86"/><ellipse cx="825.0" cy="538.50" rx="4.4" ry="1.86"/><ellipse cx="825.0" cy="541.23" rx="4.4" ry="1.86"/></g><path d="M836.23 499.60C839.03 499.60 842.03 502.33 844.83 502.33M844.83 499.60C842.03 499.60 839.03 502.33 836.23 502.33M836.23 502.33C839.03 502.33 842.03 505.05 844.83 505.05M844.83 502.33C842.03 502.33 839.03 505.05 836.23 505.05M836.23 505.05C839.03 505.05 842.03 507.78 844.83 507.78M844.83 505.05C842.03 505.05 839.03 507.78 836.23 507.78M836.23 507.78C839.03 507.78 842.03 510.51 844.83 510.51M844.83 507.78C842.03 507.78 839.03 510.51 836.23 510.51M836.23 510.51C839.03 510.51 842.03 513.23 844.83 513.23M844.83 510.51C842.03 510.51 839.03 513.23 836.23 513.23M836.23 513.23C839.03 513.23 842.03 515.96 844.83 515.96M844.83 513.23C842.03 513.23 839.03 515.96 836.23 515.96M836.23 515.96C839.03 515.96 842.03 518.69 844.83 518.69M844.83 515.96C842.03 515.96 839.03 518.69 836.23 518.69M836.23 518.69C839.03 518.69 842.03 521.41 844.83 521.41M844.83 518.69C842.03 518.69 839.03 521.41 836.23 521.41M836.23 521.41C839.03 521.41 842.03 524.14 844.83 524.14M844.83 521.41C842.03 521.41 839.03 524.14 836.23 524.14M836.23 524.14C839.03 524.14 842.03 526.87 844.83 526.87M844.83 524.14C842.03 524.14 839.03 526.87 836.23 526.87M836.23 526.87C839.03 526.87 842.03 529.59 844.83 529.59M844.83 526.87C842.03 526.87 839.03 529.59 836.23 529.59M836.23 529.59C839.03 529.59 842.03 532.32 844.83 532.32M844.83 529.59C842.03 529.59 839.03 532.32 836.23 532.32M836.23 532.32C839.03 532.32 842.03 535.05 844.83 535.05M844.83 532.32C842.03 532.32 839.03 535.05 836.23 535.05M836.23 535.05C839.03 535.05 842.03 537.77 844.83 537.77M844.83 535.05C842.03 535.05 839.03 537.77 836.23 537.77M836.23 537.77C839.03 537.77 842.03 540.50 844.83 540.50M844.83 537.77C842.03 537.77 839.03 540.50 836.23 540.50" stroke="#008000" stroke-width="1.2" fill="none"/><g stroke="#ff0000" stroke-width="1.0" fill="none"><ellipse cx="856.0" cy="503.95" rx="4.4" ry="1.97"/><ellipse cx="856.0" cy="506.85" rx="4.4" ry="1.97"/><ellipse cx="856.0" cy="509.75" rx="4.4" ry="1.97"/><ellipse cx="856.0" cy="512.65" rx="4.4" ry="1.97"/><ellipse cx="856.0" cy="515.55" rx="4.4" ry="1.97"/></g><path d="M867.25 478.20C870.05 478.20 873.05 480.91 875.85 480.91M875.85 478.20C873.05 478.20 870.05 480.91 867.25 480.91M867.25 480.91C870.05 480.91 873.05 483.62 875.85 483.62M875.85 480.91C873.05 480.91 870.05 483.62 867.25 483.62M867.25 483.62C870.05 483.62 873.05 486.32 875.85 486.32M875.85 483.62C873.05 483.62 870.05 486.32 867.25 486.32M867.25 486.32C870.05 486.32 873.05 489.03 875.85 489.03M875.85 486.32C873.05 486.32 870.05 489.03 867.25 489.03M867.25 489.03C870.05 489.03 873.05 491.74 875.85 491.74M875.85 489.03C873.05 489.03 870.05 491.74 867.25 491.74M867.25 491.74C870.05 491.74 873.05 494.45 875.85 494.45M875.85 491.74C873.05 491.74 870.05 494.45 867.25 494.45M867.25 494.45C870.05 494.45 873.05 497.15 875.85 497.15M875.85 494.45C873.05 494.45 870.05 497.15 867.25 497.15M867.25 497.15C870.05 497.15 873.05 499.86 875.85 499.86M875.85 497.15C873.05 497.15 870.05 499.86 867.25 499.86M867.25 499.86C870.05 499.86 873.05 502.57 875.85 502.57M875.85 499.86C873.05 499.86 870.05 502.57 867.25 502.57M867.25 502.57C870.05 502.57 873.05 505.28 875.85 505.28M875.85 502.57C873.05 502.57 870.05 505.28 867.25 505.28M867.25 505.28C870.05 505.28 873.05 507.98 875.85 507.98M875.85 505.28C873.05 505.28 870.05 507.98 867.25 507.98M867.25 507.98C870.05 507.98 873.05 510.69 875.85 510.69M875.85 507.98C873.05 507.98 870.05 510.69 867.25 510.69M867.25 510.69C870.05 510.69 873.05 513.40 875.85 513.40M875.85 510.69C873.05 510.69 870.05 513.40 867.25 513.40" stroke="#008000" stroke-width="1.2" fill="none"/><g stroke="#ff0000" stroke-width="1.0" fill="none"><ellipse cx="887.1" cy="482.02" rx="4.4" ry="1.80"/><ellipse cx="887.1" cy="484.67" rx="4.4" ry="1.80"/><ellipse cx="887.1" cy="487.31" rx="4.4" ry="1.80"/><ellipse cx="887.1" cy="489.96" rx="4.4" ry="1.80"/><ellipse cx="887.1" cy="492.60" rx="4.4" ry="1.80"/><ellipse cx="887.1" cy="495.24" rx="4.4" ry="1.80"/><ellipse cx="887.1" cy="497.89" rx="4.4" ry="1.80"/><ellipse cx="887.1" cy="500.53" rx="4.4" ry="1.80"/><ellipse cx="887.1" cy="503.18" rx="4.4" ry="1.80"/></g><path d="M898.27 494.20C901.07 494.20 904.07 496.80 906.87 496.80M906.87 494.20C904.07 494.20 901.07 496.80 898.27 496.80M898.27 496.80C901.07 496.80 904.07 499.40 906.87 499.40M906.87 496.80C904.07 496.80 901.07 499.40 898.27 499.40M898.27 499.40C901.07 499.40 904.07 502.00 906.87 502.00M906.87 499.40C904.07 499.40 901.07 502.00 898.27 502.00" stroke="#008000" stroke-width="1.2" fill="none"/><g stroke="#ff0000" stroke-width="1.0" fill="none"><ellipse cx="918.1" cy="497.73" rx="4.4" ry="1.94"/><ellipse cx="918.1" cy="500.59" rx="4.4" ry="1.94"/><ellipse cx="918.1" cy="503.44" rx="4.4" ry="1.94"/><ellipse cx="918.1" cy="506.30" rx="4.4" ry="1.94"/><ellipse cx="918.1" cy="509.16" rx="4.4" ry="1.94"/><ellipse cx="918.1" cy="512.01" rx="4.4" ry="1.94"/><ellipse cx="918.1" cy="514.87" rx="4.4" ry="1.94"/></g><path d="M929.29 504.20C932.09 504.20 935.09 507.27 937.89 507.27M937.89 504.20C935.09 504.20 932.09 507.27 929.29 507.27M929.29 507.27C932.09 507.27 935.09 510.33 937.89 510.33M937.89 507.27C935.09 507.27 932.09 510.33 929.29 510.33M929.29 510.33C932.09 510.33 935.09 513.40 937.89 513.40M937.89 510.33C935.09 510.33 932.09 513.40 929.29 513.40" stroke="#008000" stroke-width="1.2" fill="none"/><g stroke="#ff0000" stroke-width="1.0" fill="none"><ellipse cx="949.1" cy="509.06" rx="4.4" ry="1.85"/><ellipse cx="949.1" cy="511.78" rx="4.4" ry="1.85"/><ellipse cx="949.1" cy="514.50" rx="4.4" ry="1.85"/><ellipse cx="949.1" cy="517.21" rx="4.4" ry="1.85"/><ellipse cx="949.1" cy="519.93" rx="4.4" ry="1.85"/><ellipse cx="949.1" cy="522.65" rx="4.4" ry="1.85"/><ellipse cx="949.1" cy="525.37" rx="4.4" ry="1.85"/><ellipse cx="949.1" cy="528.09" rx="4.4" ry="1.85"/><ellipse cx="949.1" cy="530.80" rx="4.4" ry="1.85"/><ellipse cx="949.1" cy="533.52" rx="4.4" ry="1.85"/><ellipse cx="949.1" cy="536.24" rx="4.4" ry="1.85"/></g><path d="M960.31 515.60C963.11 515.60 966.11 518.34 968.91 518.34M968.91 515.60C966.11 515.60 963.11 518.34 960.31 518.34M960.31 518.34C963.11 518.34 966.11 521.09 968.91 521.09M968.91 518.34C966.11 518.34 963.11 521.09 960.31 521.09M960.31 521.09C963.11 521.09 966.11 523.83 968.91 523.83M968.91 521.09C966.11 521.09 963.11 523.83 960.31 523.83M960.31 523.83C963.11 523.83 966.11 526.57 968.91 526.57M968.91 523.83C966.11 523.83 963.11 526.57 960.31 526.57M960.31 526.57C963.11 526.57 966.11 529.31 968.91 529.31M968.91 526.57C966.11 526.57 963.11 529.31 960.31 529.31M960.31 529.31C963.11 529.31 966.11 532.06 968.91 532.06M968.91 529.31C966.11 529.31 963.11 532.06 960.31 532.06M960.31 532.06C963.11 532.06 966.11 534.80 968.91 534.80M968.91 532.06C966.11 532.06 963.11 534.80 960.31 534.80" stroke="#008000" stroke-width="1.2" fill="none"/><g stroke="#ff0000" stroke-width="1.0" fill="none"><ellipse cx="980.1" cy="519.82" rx="4.4" ry="1.94"/><ellipse cx="980.1" cy="522.67" rx="4.4" ry="1.94"/><ellipse cx="980.1" cy="525.52" rx="4.4" ry="1.94"/><ellipse cx="980.1" cy="528.38" rx="4.4" ry="1.94"/></g><path d="M991.33 499.20C994.13 499.20 997.13 501.98 999.93 501.98M999.93 499.20C997.13 499.20 994.13 501.98 991.33 501.98M991.33 501.98C994.13 501.98 997.13 504.76 999.93 504.76M999.93 501.98C997.13 501.98 994.13 504.76 991.33 504.76M991.33 504.76C994.13 504.76 997.13 507.54 999.93 507.54M999.93 504.76C997.13 504.76 994.13 507.54 991.33 507.54M991.33 507.54C994.13 507.54 997.13 510.32 999.93 510.32M999.93 507.54C997.13 507.54 994.13 510.32 991.33 510.32M991.33 510.32C994.13 510.32 997.13 513.10 999.93 513.10M999.93 510.32C997.13 510.32 994.13 513.10 991.33 513.10M991.33 513.10C994.13 513.10 997.13 515.88 999.93 515.88M999.93 513.10C997.13 513.10 994.13 515.88 991.33 515.88M991.33 515.88C994.13 515.88 997.13 518.66 999.93 518.66M999.93 515.88C997.13 515.88 994.13 518.66 991.33 518.66M991.33 518.66C994.13 518.66 997.13 521.44 999.93 521.44M999.93 518.66C997.13 518.66 994.13 521.44 991.33 521.44M991.33 521.44C994.13 521.44 997.13 524.22 999.93 524.22M999.93 521.44C997.13 521.44 994.13 524.22 991.33 524.22M991.33 524.22C994.13 524.22 997.13 527.00 999.93 527.00M999.93 524.22C997.13 524.22 994.13 527.00 991.33 527.00" stroke="#008000" stroke-width="1.2" fill="none"/><g stroke="#ff0000" stroke-width="1.0" fill="none"><ellipse cx="1011.1" cy="503.89" rx="4.4" ry="1.89"/><ellipse cx="1011.1" cy="506.68" rx="4.4" ry="1.89"/><ellipse cx="1011.1" cy="509.46" rx="4.4" ry="1.89"/><ellipse cx="1011.1" cy="512.25" rx="4.4" ry="1.89"/><ellipse cx="1011.1" cy="515.04" rx="4.4" ry="1.89"/><ellipse cx="1011.1" cy="517.82" rx="4.4" ry="1.89"/><ellipse cx="1011.1" cy="520.61" rx="4.4" ry="1.89"/></g><path d="M1022.35 488.50C1025.15 488.50 1028.15 491.09 1030.95 491.09M1030.95 488.50C1028.15 488.50 1025.15 491.09 1022.35 491.09M1022.35 491.09C1025.15 491.09 1028.15 493.68 1030.95 493.68M1030.95 491.09C1028.15 491.09 1025.15 493.68 1022.35 493.68M1022.35 493.68C1025.15 493.68 1028.15 496.27 1030.95 496.27M1030.95 493.68C1028.15 493.68 1025.15 496.27 1022.35 496.27M1022.35 496.27C1025.15 496.27 1028.15 498.86 1030.95 498.86M1030.95 496.27C1028.15 496.27 1025.15 498.86 1022.35 498.86M1022.35 498.86C1025.15 498.86 1028.15 501.45 1030.95 501.45M1030.95 498.86C1028.15 498.86 1025.15 501.45 1022.35 501.45M1022.35 501.45C1025.15 501.45 1028.15 504.05 1030.95 504.05M1030.95 501.45C1028.15 501.45 1025.15 504.05 1022.35 504.05M1022.35 504.05C1025.15 504.05 1028.15 506.64 1030.95 506.64M1030.95 504.05C1028.15 504.05 1025.15 506.64 1022.35 506.64M1022.35 506.64C1025.15 506.64 1028.15 509.23 1030.95 509.23M1030.95 506.64C1028.15 506.64 1025.15 509.23 1022.35 509.23M1022.35 509.23C1025.15 509.23 1028.15 511.82 1030.95 511.82M1030.95 509.23C1028.15 509.23 1025.15 511.82 1022.35 511.82M1022.35 511.82C1025.15 511.82 1028.15 514.41 1030.95 514.41M1030.95 511.82C1028.15 511.82 1025.15 514.41 1022.35 514.41M1022.35 514.41C1025.15 514.41 1028.15 517.00 1030.95 517.00M1030.95 514.41C1028.15 514.41 1025.15 517.00 1022.35 517.00" stroke="#008000" stroke-width="1.2" fill="none"/><g stroke="#ff0000" stroke-width="1.0" fill="none"><ellipse cx="1042.2" cy="492.97" rx="4.4" ry="1.87"/><ellipse cx="1042.2" cy="495.72" rx="4.4" ry="1.87"/><ellipse cx="1042.2" cy="498.46" rx="4.4" ry="1.87"/><ellipse cx="1042.2" cy="501.21" rx="4.4" ry="1.87"/><ellipse cx="1042.2" cy="503.95" rx="4.4" ry="1.87"/><ellipse cx="1042.2" cy="506.69" rx="4.4" ry="1.87"/><ellipse cx="1042.2" cy="509.44" rx="4.4" ry="1.87"/><ellipse cx="1042.2" cy="512.18" rx="4.4" ry="1.87"/><ellipse cx="1042.2" cy="514.93" rx="4.4" ry="1.87"/></g><path d="M1053.37 488.50C1056.17 488.50 1059.17 491.32 1061.97 491.32M1061.97 488.50C1059.17 488.50 1056.17 491.32 1053.37 491.32M1053.37 491.32C1056.17 491.32 1059.17 494.14 1061.97 494.14M1061.97 491.32C1059.17 491.32 1056.17 494.14 1053.37 494.14M1053.37 494.14C1056.17 494.14 1059.17 496.97 1061.97 496.97M1061.97 494.14C1059.17 494.14 1056.17 496.97 1053.37 496.97M1053.37 496.97C1056.17 496.97 1059.17 499.79 1061.97 499.79M1061.97 496.97C1059.17 496.97 1056.17 499.79 1053.37 499.79M1053.37 499.79C1056.17 499.79 1059.17 502.61 1061.97 502.61M1061.97 499.79C1059.17 499.79 1056.17 502.61 1053.37 502.61M1053.37 502.61C1056.17 502.61 1059.17 505.43 1061.97 505.43M1061.97 502.61C1059.17 502.61 1056.17 505.43 1053.37 505.43M1053.37 505.43C1056.17 505.43 1059.17 508.26 1061.97 508.26M1061.97 505.43C1059.17 505.43 1056.17 508.26 1053.37 508.26M1053.37 508.26C1056.17 508.26 1059.17 511.08 1061.97 511.08M1061.97 508.26C1059.17 508.26 1056.17 511.08 1053.37 511.08M1053.37 511.08C1056.17 511.08 1059.17 513.90 1061.97 513.90M1061.97 511.08C1059.17 511.08 1056.17 513.90 1053.37 513.90" stroke="#008000" stroke-width="1.2" fill="none"/><g stroke="#ff0000" stroke-width="1.0" fill="none"><ellipse cx="1073.2" cy="492.94" rx="4.4" ry="1.82"/><ellipse cx="1073.2" cy="495.62" rx="4.4" ry="1.82"/><ellipse cx="1073.2" cy="498.31" rx="4.4" ry="1.82"/><ellipse cx="1073.2" cy="500.99" rx="4.4" ry="1.82"/><ellipse cx="1073.2" cy="503.68" rx="4.4" ry="1.82"/><ellipse cx="1073.2" cy="506.36" rx="4.4" ry="1.82"/></g><path d="M1084.39 488.50C1087.19 488.50 1090.19 491.40 1092.99 491.40M1092.99 488.50C1090.19 488.50 1087.19 491.40 1084.39 491.40M1084.39 491.40C1087.19 491.40 1090.19 494.30 1092.99 494.30M1092.99 491.40C1090.19 491.40 1087.19 494.30 1084.39 494.30M1084.39 494.30C1087.19 494.30 1090.19 497.20 1092.99 497.20M1092.99 494.30C1090.19 494.30 1087.19 497.20 1084.39 497.20M1084.39 497.20C1087.19 497.20 1090.19 500.10 1092.99 500.10M1092.99 497.20C1090.19 497.20 1087.19 500.10 1084.39 500.10M1084.39 500.10C1087.19 500.10 1090.19 503.00 1092.99 503.00M1092.99 500.10C1090.19 500.10 1087.19 503.00 1084.39 503.00M1084.39 503.00C1087.19 503.00 1090.19 505.90 1092.99 505.90M1092.99 503.00C1090.19 503.00 1087.19 505.90 1084.39 505.90" stroke="#008000" stroke-width="1.2" fill="none"/><g stroke="#ff0000" stroke-width="1.0" fill="none"><ellipse cx="1104.2" cy="492.94" rx="4.4" ry="1.82"/><ellipse cx="1104.2" cy="495.62" rx="4.4" ry="1.82"/><ellipse cx="1104.2" cy="498.31" rx="4.4" ry="1.82"/><ellipse cx="1104.2" cy="500.99" rx="4.4" ry="1.82"/><ellipse cx="1104.2" cy="503.68" rx="4.4" ry="1.82"/><ellipse cx="1104.2" cy="506.36" rx="4.4" ry="1.82"/></g><path d="M1115.41 494.60C1118.21 494.60 1121.21 497.43 1124.01 497.43M1124.01 494.60C1121.21 494.60 1118.21 497.43 1115.41 497.43M1115.41 497.43C1118.21 497.43 1121.21 500.25 1124.01 500.25M1124.01 497.43C1121.21 497.43 1118.21 500.25 1115.41 500.25M1115.41 500.25C1118.21 500.25 1121.21 503.07 1124.01 503.07M1124.01 500.25C1121.21 500.25 1118.21 503.07 1115.41 503.07M1115.41 503.07C1118.21 503.07 1121.21 505.90 1124.01 505.90M1124.01 503.07C1121.21 503.07 1118.21 505.90 1115.41 505.90" stroke="#008000" stroke-width="1.2" fill="none"/><g stroke="#ff0000" stroke-width="1.0" fill="none"><ellipse cx="1135.2" cy="498.18" rx="4.4" ry="1.88"/><ellipse cx="1135.2" cy="500.94" rx="4.4" ry="1.88"/><ellipse cx="1135.2" cy="503.70" rx="4.4" ry="1.88"/><ellipse cx="1135.2" cy="506.46" rx="4.4" ry="1.88"/><ellipse cx="1135.2" cy="509.22" rx="4.4" ry="1.88"/></g><path d="M1146.43 488.50C1149.23 488.50 1152.23 491.24 1155.03 491.24M1155.03 488.50C1152.23 488.50 1149.23 491.24 1146.43 491.24M1146.43 491.24C1149.23 491.24 1152.23 493.99 1155.03 493.99M1155.03 491.24C1152.23 491.24 1149.23 493.99 1146.43 493.99M1146.43 493.99C1149.23 493.99 1152.23 496.73 1155.03 496.73M1155.03 493.99C1152.23 493.99 1149.23 496.73 1146.43 496.73M1146.43 496.73C1149.23 496.73 1152.23 499.47 1155.03 499.47M1155.03 496.73C1152.23 496.73 1149.23 499.47 1146.43 499.47M1146.43 499.47C1149.23 499.47 1152.23 502.21 1155.03 502.21M1155.03 499.47C1152.23 499.47 1149.23 502.21 1146.43 502.21M1146.43 502.21C1149.23 502.21 1152.23 504.96 1155.03 504.96M1155.03 502.21C1152.23 502.21 1149.23 504.96 1146.43 504.96M1146.43 504.96C1149.23 504.96 1152.23 507.70 1155.03 507.70M1155.03 504.96C1152.23 504.96 1149.23 507.70 1146.43 507.70" stroke="#008000" stroke-width="1.2" fill="none"/><g stroke="#ff0000" stroke-width="1.0" fill="none"><ellipse cx="1166.2" cy="492.99" rx="4.4" ry="1.89"/><ellipse cx="1166.2" cy="495.76" rx="4.4" ry="1.89"/><ellipse cx="1166.2" cy="498.54" rx="4.4" ry="1.89"/><ellipse cx="1166.2" cy="501.31" rx="4.4" ry="1.89"/></g><path d="M1177.45 483.40C1180.25 483.40 1183.25 486.13 1186.05 486.13M1186.05 483.40C1183.25 483.40 1180.25 486.13 1177.45 486.13M1177.45 486.13C1180.25 486.13 1183.25 488.87 1186.05 488.87M1186.05 486.13C1183.25 486.13 1180.25 488.87 1177.45 488.87M1177.45 488.87C1180.25 488.87 1183.25 491.60 1186.05 491.60M1186.05 488.87C1183.25 488.87 1180.25 491.60 1177.45 491.60M1177.45 491.60C1180.25 491.60 1183.25 494.33 1186.05 494.33M1186.05 491.60C1183.25 491.60 1180.25 494.33 1177.45 494.33M1177.45 494.33C1180.25 494.33 1183.25 497.07 1186.05 497.07M1186.05 494.33C1183.25 494.33 1180.25 497.07 1177.45 497.07M1177.45 497.07C1180.25 497.07 1183.25 499.80 1186.05 499.80M1186.05 497.07C1183.25 497.07 1180.25 499.80 1177.45 499.80" stroke="#008000" stroke-width="1.2" fill="none"/><g stroke="#ff0000" stroke-width="1.0" fill="none"><ellipse cx="1197.3" cy="487.62" rx="4.4" ry="1.93"/><ellipse cx="1197.3" cy="490.45" rx="4.4" ry="1.93"/><ellipse cx="1197.3" cy="493.28" rx="4.4" ry="1.93"/></g><path d="M1208.47 475.50C1211.27 475.50 1214.27 477.98 1217.07 477.98M1217.07 475.50C1214.27 475.50 1211.27 477.98 1208.47 477.98M1208.47 477.98C1211.27 477.98 1214.27 480.47 1217.07 480.47M1217.07 477.98C1214.27 477.98 1211.27 480.47 1208.47 480.47M1208.47 480.47C1211.27 480.47 1214.27 482.95 1217.07 482.95M1217.07 480.47C1214.27 480.47 1211.27 482.95 1208.47 482.95M1208.47 482.95C1211.27 482.95 1214.27 485.43 1217.07 485.43M1217.07 482.95C1214.27 482.95 1211.27 485.43 1208.47 485.43M1208.47 485.43C1211.27 485.43 1214.27 487.92 1217.07 487.92M1217.07 485.43C1214.27 485.43 1211.27 487.92 1208.47 487.92M1208.47 487.92C1211.27 487.92 1214.27 490.40 1217.07 490.40M1217.07 487.92C1214.27 487.92 1211.27 490.40 1208.47 490.40" stroke="#008000" stroke-width="1.2" fill="none"/><g stroke="#ff0000" stroke-width="1.0" fill="none"><ellipse cx="1228.3" cy="476.80" rx="4.4" ry="1.77"/><ellipse cx="1228.3" cy="479.40" rx="4.4" ry="1.77"/><ellipse cx="1228.3" cy="482.00" rx="4.4" ry="1.77"/></g><path d="M1239.49 413.50C1242.29 413.50 1245.29 416.24 1248.09 416.24M1248.09 413.50C1245.29 413.50 1242.29 416.24 1239.49 416.24M1239.49 416.24C1242.29 416.24 1245.29 418.97 1248.09 418.97M1248.09 416.24C1245.29 416.24 1242.29 418.97 1239.49 418.97M1239.49 418.97C1242.29 418.97 1245.29 421.71 1248.09 421.71M1248.09 418.97C1245.29 418.97 1242.29 421.71 1239.49 421.71M1239.49 421.71C1242.29 421.71 1245.29 424.44 1248.09 424.44M1248.09 421.71C1245.29 421.71 1242.29 424.44 1239.49 424.44M1239.49 424.44C1242.29 424.44 1245.29 427.18 1248.09 427.18M1248.09 424.44C1245.29 424.44 1242.29 427.18 1239.49 427.18M1239.49 427.18C1242.29 427.18 1245.29 429.92 1248.09 429.92M1248.09 427.18C1245.29 427.18 1242.29 429.92 1239.49 429.92M1239.49 429.92C1242.29 429.92 1245.29 432.65 1248.09 432.65M1248.09 429.92C1245.29 429.92 1242.29 432.65 1239.49 432.65M1239.49 432.65C1242.29 432.65 1245.29 435.39 1248.09 435.39M1248.09 432.65C1245.29 432.65 1242.29 435.39 1239.49 435.39M1239.49 435.39C1242.29 435.39 1245.29 438.12 1248.09 438.12M1248.09 435.39C1245.29 435.39 1242.29 438.12 1239.49 438.12M1239.49 438.12C1242.29 438.12 1245.29 440.86 1248.09 440.86M1248.09 438.12C1245.29 438.12 1242.29 440.86 1239.49 440.86M1239.49 440.86C1242.29 440.86 1245.29 443.60 1248.09 443.60M1248.09 440.86C1245.29 440.86 1242.29 443.60 1239.49 443.60M1239.49 443.60C1242.29 443.60 1245.29 446.33 1248.09 446.33M1248.09 443.60C1245.29 443.60 1242.29 446.33 1239.49 446.33M1239.49 446.33C1242.29 446.33 1245.29 449.07 1248.09 449.07M1248.09 446.33C1245.29 446.33 1242.29 449.07 1239.49 449.07M1239.49 449.07C1242.29 449.07 1245.29 451.80 1248.09 451.80M1248.09 449.07C1245.29 449.07 1242.29 451.80 1239.49 451.80M1239.49 451.80C1242.29 451.80 1245.29 454.54 1248.09 454.54M1248.09 451.80C1245.29 451.80 1242.29 454.54 1239.49 454.54M1239.49 454.54C1242.29 454.54 1245.29 457.28 1248.09 457.28M1248.09 454.54C1245.29 454.54 1242.29 457.28 1239.49 457.28M1239.49 457.28C1242.29 457.28 1245.29 460.01 1248.09 460.01M1248.09 457.28C1245.29 457.28 1242.29 460.01 1239.49 460.01M1239.49 460.01C1242.29 460.01 1245.29 462.75 1248.09 462.75M1248.09 460.01C1245.29 460.01 1242.29 462.75 1239.49 462.75M1239.49 462.75C1242.29 462.75 1245.29 465.48 1248.09 465.48M1248.09 462.75C1245.29 462.75 1242.29 465.48 1239.49 465.48M1239.49 465.48C1242.29 465.48 1245.29 468.22 1248.09 468.22M1248.09 465.48C1245.29 465.48 1242.29 468.22 1239.49 468.22M1239.49 468.22C1242.29 468.22 1245.29 470.96 1248.09 470.96M1248.09 468.22C1245.29 468.22 1242.29 470.96 1239.49 470.96M1239.49 470.96C1242.29 470.96 1245.29 473.69 1248.09 473.69M1248.09 470.96C1245.29 470.96 1242.29 473.69 1239.49 473.69M1239.49 473.69C1242.29 473.69 1245.29 476.43 1248.09 476.43M1248.09 473.69C1245.29 473.69 1242.29 476.43 1239.49 476.43M1239.49 476.43C1242.29 476.43 1245.29 479.16 1248.09 479.16M1248.09 476.43C1245.29 476.43 1242.29 479.16 1239.49 479.16M1239.49 479.16C1242.29 479.16 1245.29 481.90 1248.09 481.90M1248.09 479.16C1245.29 479.16 1242.29 481.90 1239.49 481.90" stroke="#008000" stroke-width="1.2" fill="none"/><g stroke="#ff0000" stroke-width="1.0" fill="none"><ellipse cx="1259.3" cy="417.77" rx="4.4" ry="1.87"/><ellipse cx="1259.3" cy="420.51" rx="4.4" ry="1.87"/><ellipse cx="1259.3" cy="423.26" rx="4.4" ry="1.87"/><ellipse cx="1259.3" cy="426.00" rx="4.4" ry="1.87"/><ellipse cx="1259.3" cy="428.74" rx="4.4" ry="1.87"/><ellipse cx="1259.3" cy="431.49" rx="4.4" ry="1.87"/><ellipse cx="1259.3" cy="434.23" rx="4.4" ry="1.87"/></g><path d="M1270.51 416.40C1273.31 416.40 1276.31 419.12 1279.11 419.12M1279.11 416.40C1276.31 416.40 1273.31 419.12 1270.51 419.12M1270.51 419.12C1273.31 419.12 1276.31 421.83 1279.11 421.83M1279.11 419.12C1276.31 419.12 1273.31 421.83 1270.51 421.83M1270.51 421.83C1273.31 421.83 1276.31 424.55 1279.11 424.55M1279.11 421.83C1276.31 421.83 1273.31 424.55 1270.51 424.55M1270.51 424.55C1273.31 424.55 1276.31 427.27 1279.11 427.27M1279.11 424.55C1276.31 424.55 1273.31 427.27 1270.51 427.27M1270.51 427.27C1273.31 427.27 1276.31 429.98 1279.11 429.98M1279.11 427.27C1276.31 427.27 1273.31 429.98 1270.51 429.98M1270.51 429.98C1273.31 429.98 1276.31 432.70 1279.11 432.70M1279.11 429.98C1276.31 429.98 1273.31 432.70 1270.51 432.70" stroke="#008000" stroke-width="1.2" fill="none"/><g stroke="#ff0000" stroke-width="1.0" fill="none"><ellipse cx="1290.3" cy="419.92" rx="4.4" ry="1.93"/><ellipse cx="1290.3" cy="422.76" rx="4.4" ry="1.93"/><ellipse cx="1290.3" cy="425.60" rx="4.4" ry="1.93"/><ellipse cx="1290.3" cy="428.44" rx="4.4" ry="1.93"/><ellipse cx="1290.3" cy="431.28" rx="4.4" ry="1.93"/></g><path d="M1301.53 421.30C1304.33 421.30 1307.33 424.17 1310.13 424.17M1310.13 421.30C1307.33 421.30 1304.33 424.17 1301.53 424.17M1301.53 424.17C1304.33 424.17 1307.33 427.03 1310.13 427.03M1310.13 424.17C1307.33 424.17 1304.33 427.03 1301.53 427.03M1301.53 427.03C1304.33 427.03 1307.33 429.90 1310.13 429.90M1310.13 427.03C1307.33 427.03 1304.33 429.90 1301.53 429.90" stroke="#008000" stroke-width="1.2" fill="none"/><g stroke="#ff0000" stroke-width="1.0" fill="none"><ellipse cx="1321.3" cy="425.59" rx="4.4" ry="1.89"/><ellipse cx="1321.3" cy="428.37" rx="4.4" ry="1.89"/><ellipse cx="1321.3" cy="431.15" rx="4.4" ry="1.89"/><ellipse cx="1321.3" cy="433.93" rx="4.4" ry="1.89"/><ellipse cx="1321.3" cy="436.71" rx="4.4" ry="1.89"/><ellipse cx="1321.3" cy="439.49" rx="4.4" ry="1.89"/><ellipse cx="1321.3" cy="442.27" rx="4.4" ry="1.89"/><ellipse cx="1321.3" cy="445.05" rx="4.4" ry="1.89"/><ellipse cx="1321.3" cy="447.83" rx="4.4" ry="1.89"/><ellipse cx="1321.3" cy="450.61" rx="4.4" ry="1.89"/></g><path d="M1332.55 434.20C1335.35 434.20 1338.35 437.08 1341.15 437.08M1341.15 434.20C1338.35 434.20 1335.35 437.08 1332.55 437.08M1332.55 437.08C1335.35 437.08 1338.35 439.96 1341.15 439.96M1341.15 437.08C1338.35 437.08 1335.35 439.96 1332.55 439.96M1332.55 439.96C1335.35 439.96 1338.35 442.84 1341.15 442.84M1341.15 439.96C1338.35 439.96 1335.35 442.84 1332.55 442.84M1332.55 442.84C1335.35 442.84 1338.35 445.72 1341.15 445.72M1341.15 442.84C1338.35 442.84 1335.35 445.72 1332.55 445.72M1332.55 445.72C1335.35 445.72 1338.35 448.60 1341.15 448.60M1341.15 445.72C1338.35 445.72 1335.35 448.60 1332.55 448.60" stroke="#008000" stroke-width="1.2" fill="none"/><g stroke="#ff0000" stroke-width="1.0" fill="none"><ellipse cx="1352.4" cy="438.47" rx="4.4" ry="1.99"/><ellipse cx="1352.4" cy="441.40" rx="4.4" ry="1.99"/><ellipse cx="1352.4" cy="444.33" rx="4.4" ry="1.99"/></g><path d="M1363.57 389.20C1366.37 389.20 1369.37 391.94 1372.17 391.94M1372.17 389.20C1369.37 389.20 1366.37 391.94 1363.57 391.94M1363.57 391.94C1366.37 391.94 1369.37 394.69 1372.17 394.69M1372.17 391.94C1369.37 391.94 1366.37 394.69 1363.57 394.69M1363.57 394.69C1366.37 394.69 1369.37 397.44 1372.17 397.44M1372.17 394.69C1369.37 394.69 1366.37 397.44 1363.57 397.44M1363.57 397.44C1366.37 397.44 1369.37 400.18 1372.17 400.18M1372.17 397.44C1369.37 397.44 1366.37 400.18 1363.57 400.18M1363.57 400.18C1366.37 400.18 1369.37 402.93 1372.17 402.93M1372.17 400.18C1369.37 400.18 1366.37 402.93 1363.57 402.93M1363.57 402.93C1366.37 402.93 1369.37 405.67 1372.17 405.67M1372.17 402.93C1369.37 402.93 1366.37 405.67 1363.57 405.67M1363.57 405.67C1366.37 405.67 1369.37 408.42 1372.17 408.42M1372.17 405.67C1369.37 405.67 1366.37 408.42 1363.57 408.42M1363.57 408.42C1366.37 408.42 1369.37 411.16 1372.17 411.16M1372.17 408.42C1369.37 408.42 1366.37 411.16 1363.57 411.16M1363.57 411.16C1366.37 411.16 1369.37 413.91 1372.17 413.91M1372.17 411.16C1369.37 411.16 1366.37 413.91 1363.57 413.91M1363.57 413.91C1366.37 413.91 1369.37 416.65 1372.17 416.65M1372.17 413.91C1369.37 413.91 1366.37 416.65 1363.57 416.65M1363.57 416.65C1366.37 416.65 1369.37 419.39 1372.17 419.39M1372.17 416.65C1369.37 416.65 1366.37 419.39 1363.57 419.39M1363.57 419.39C1366.37 419.39 1369.37 422.14 1372.17 422.14M1372.17 419.39C1369.37 419.39 1366.37 422.14 1363.57 422.14M1363.57 422.14C1366.37 422.14 1369.37 424.88 1372.17 424.88M1372.17 422.14C1369.37 422.14 1366.37 424.88 1363.57 424.88M1363.57 424.88C1366.37 424.88 1369.37 427.63 1372.17 427.63M1372.17 424.88C1369.37 424.88 1366.37 427.63 1363.57 427.63M1363.57 427.63C1366.37 427.63 1369.37 430.38 1372.17 430.38M1372.17 427.63C1369.37 427.63 1366.37 430.38 1363.57 430.38M1363.57 430.38C1366.37 430.38 1369.37 433.12 1372.17 433.12M1372.17 430.38C1369.37 430.38 1366.37 433.12 1363.57 433.12M1363.57 433.12C1366.37 433.12 1369.37 435.87 1372.17 435.87M1372.17 433.12C1369.37 433.12 1366.37 435.87 1363.57 435.87M1363.57 435.87C1366.37 435.87 1369.37 438.61 1372.17 438.61M1372.17 435.87C1369.37 435.87 1366.37 438.61 1363.57 438.61M1363.57 438.61C1366.37 438.61 1369.37 441.36 1372.17 441.36M1372.17 438.61C1369.37 438.61 1366.37 441.36 1363.57 441.36M1363.57 441.36C1366.37 441.36 1369.37 444.10 1372.17 444.10M1372.17 441.36C1369.37 441.36 1366.37 444.10 1363.57 444.10" stroke="#008000" stroke-width="1.2" fill="none"/><g stroke="#ff0000" stroke-width="1.0" fill="none"><ellipse cx="1383.4" cy="392.59" rx="4.4" ry="1.75"/><ellipse cx="1383.4" cy="395.16" rx="4.4" ry="1.75"/><ellipse cx="1383.4" cy="397.74" rx="4.4" ry="1.75"/><ellipse cx="1383.4" cy="400.31" rx="4.4" ry="1.75"/></g><path d="M1394.59 362.10C1397.39 362.10 1400.39 364.85 1403.19 364.85M1403.19 362.10C1400.39 362.10 1397.39 364.85 1394.59 364.85M1394.59 364.85C1397.39 364.85 1400.39 367.59 1403.19 367.59M1403.19 364.85C1400.39 364.85 1397.39 367.59 1394.59 367.59M1394.59 367.59C1397.39 367.59 1400.39 370.34 1403.19 370.34M1403.19 367.59C1400.39 367.59 1397.39 370.34 1394.59 370.34M1394.59 370.34C1397.39 370.34 1400.39 373.08 1403.19 373.08M1403.19 370.34C1400.39 370.34 1397.39 373.08 1394.59 373.08M1394.59 373.08C1397.39 373.08 1400.39 375.83 1403.19 375.83M1403.19 373.08C1400.39 373.08 1397.39 375.83 1394.59 375.83M1394.59 375.83C1397.39 375.83 1400.39 378.58 1403.19 378.58M1403.19 375.83C1400.39 375.83 1397.39 378.58 1394.59 378.58M1394.59 378.58C1397.39 378.58 1400.39 381.32 1403.19 381.32M1403.19 378.58C1400.39 378.58 1397.39 381.32 1394.59 381.32M1394.59 381.32C1397.39 381.32 1400.39 384.07 1403.19 384.07M1403.19 381.32C1400.39 381.32 1397.39 384.07 1394.59 384.07M1394.59 384.07C1397.39 384.07 1400.39 386.82 1403.19 386.82M1403.19 384.07C1400.39 384.07 1397.39 386.82 1394.59 386.82M1394.59 386.82C1397.39 386.82 1400.39 389.56 1403.19 389.56M1403.19 386.82C1400.39 386.82 1397.39 389.56 1394.59 389.56M1394.59 389.56C1397.39 389.56 1400.39 392.31 1403.19 392.31M1403.19 389.56C1400.39 389.56 1397.39 392.31 1394.59 392.31M1394.59 392.31C1397.39 392.31 1400.39 395.05 1403.19 395.05M1403.19 392.31C1400.39 392.31 1397.39 395.05 1394.59 395.05M1394.59 395.05C1397.39 395.05 1400.39 397.80 1403.19 397.80M1403.19 395.05C1400.39 395.05 1397.39 397.80 1394.59 397.80" stroke="#008000" stroke-width="1.2" fill="none"/></g>
<g clip-path="url(#mainclip)"><polygon points="18.5,587.5 34.0,590.0 49.5,590.0 65.0,590.0 80.5,590.0 96.0,590.0 111.6,589.8 127.1,578.5 142.6,566.0 158.1,561.0 173.6,543.0 189.1,543.0 204.6,543.5 220.1,544.0 235.6,544.0 251.2,544.3 266.7,544.6 282.2,548.0 297.7,550.0 313.2,550.6 328.7,555.0 344.2,564.8 359.7,569.0 375.2,594.7 390.7,594.7 406.2,594.7 421.8,594.7 437.3,580.0 452.8,577.0 468.3,571.0 483.8,566.4 499.3,561.0 514.8,552.0 530.3,553.0 545.8,538.0 561.4,521.0 576.9,512.0 592.4,501.5 607.9,497.5 623.4,497.0 638.9,496.5 654.4,494.0 669.9,491.2 685.4,491.2 700.9,489.0 716.5,502.0 732.0,514.0 747.5,526.0 763.0,537.6 778.5,566.0 794.0,561.0 809.5,553.0 825.0,551.6 840.5,528.0 856.0,521.3 871.5,508.5 887.1,505.3 902.6,502.0 918.1,488.2 933.6,488.2 949.1,506.3 964.6,507.3 980.1,508.4 995.6,531.0 1011.1,536.9 1026.7,516.3 1042.2,515.5 1057.7,515.0 1073.2,514.5 1088.7,514.0 1104.2,513.8 1119.7,513.5 1135.2,513.2 1150.7,513.0 1166.2,513.0 1181.8,512.0 1197.3,500.0 1212.8,488.3 1228.3,486.9 1243.8,458.0 1259.3,437.7 1274.8,437.5 1290.3,437.3 1305.8,437.0 1321.3,419.9 1336.8,422.7 1352.4,427.7 1367.9,426.3 1383.4,409.9 1398.9,394.2 1398.9,411.3 1383.4,429.8 1367.9,441.2 1352.4,460.9 1336.8,460.9 1321.3,460.9 1305.8,460.9 1290.3,460.9 1274.8,460.9 1259.3,461.0 1243.8,467.0 1228.3,500.4 1212.8,500.4 1197.3,510.0 1181.8,524.8 1166.2,533.4 1150.7,534.1 1135.2,534.1 1119.7,534.1 1104.2,534.1 1088.7,534.1 1073.2,534.1 1057.7,534.1 1042.2,534.1 1026.7,534.1 1011.1,491.1 995.6,491.0 980.1,490.6 964.6,490.0 949.1,489.6 933.6,523.4 918.1,523.4 902.6,523.4 887.1,523.4 871.5,532.0 856.0,544.1 840.5,544.1 825.0,512.7 809.5,512.7 794.0,512.7 778.5,512.7 763.0,512.7 747.5,498.5 732.0,494.2 716.5,483.3 700.9,481.6 685.4,505.9 669.9,505.9 654.4,512.8 638.9,516.2 623.4,527.0 607.9,527.0 592.4,529.0 576.9,539.8 561.4,543.2 545.8,559.5 530.3,568.1 514.8,546.5 499.3,546.5 483.8,546.5 468.3,546.5 452.8,546.5 437.3,546.3 421.8,543.5 406.2,543.5 390.7,543.5 375.2,543.5 359.7,543.5 344.2,537.5 328.7,531.6 313.2,509.7 297.7,509.7 282.2,545.8 266.7,581.9 251.2,581.9 235.6,581.9 220.1,581.9 204.6,581.9 189.1,581.9 173.6,581.9 158.1,581.7 142.6,586.0 127.1,591.8 111.6,568.8 96.0,568.6 80.5,568.0 65.0,565.3 49.5,565.3 34.0,565.3 18.5,565.3" fill="rgb(255,80,80)" fill-opacity="0.24" clip-path="url(#below)"/></g>
<g clip-path="url(#mainclip)">
<polygon points="18.5,587.5 34.0,590.0 49.5,590.0 65.0,590.0 80.5,590.0 96.0,590.0 111.6,589.8 127.1,578.5 142.6,566.0 158.1,561.0 173.6,543.0 189.1,543.0 204.6,543.5 220.1,544.0 235.6,544.0 251.2,544.3 266.7,544.6 282.2,548.0 297.7,550.0 313.2,550.6 328.7,555.0 344.2,564.8 359.7,569.0 375.2,594.7 390.7,594.7 406.2,594.7 421.8,594.7 437.3,580.0 452.8,577.0 468.3,571.0 483.8,566.4 499.3,561.0 514.8,552.0 530.3,553.0 545.8,538.0 561.4,521.0 576.9,512.0 592.4,501.5 607.9,497.5 623.4,497.0 638.9,496.5 654.4,494.0 669.9,491.2 685.4,491.2 700.9,489.0 716.5,502.0 732.0,514.0 747.5,526.0 763.0,537.6 778.5,566.0 794.0,561.0 809.5,553.0 825.0,551.6 840.5,528.0 856.0,521.3 871.5,508.5 887.1,505.3 902.6,502.0 918.1,488.2 933.6,488.2 949.1,506.3 964.6,507.3 980.1,508.4 995.6,531.0 1011.1,536.9 1026.7,516.3 1042.2,515.5 1057.7,515.0 1073.2,514.5 1088.7,514.0 1104.2,513.8 1119.7,513.5 1135.2,513.2 1150.7,513.0 1166.2,513.0 1181.8,512.0 1197.3,500.0 1212.8,488.3 1228.3,486.9 1243.8,458.0 1259.3,437.7 1274.8,437.5 1290.3,437.3 1305.8,437.0 1321.3,419.9 1336.8,422.7 1352.4,427.7 1367.9,426.3 1383.4,409.9 1398.9,394.2 1398.9,411.3 1383.4,429.8 1367.9,441.2 1352.4,460.9 1336.8,460.9 1321.3,460.9 1305.8,460.9 1290.3,460.9 1274.8,460.9 1259.3,461.0 1243.8,467.0 1228.3,500.4 1212.8,500.4 1197.3,510.0 1181.8,524.8 1166.2,533.4 1150.7,534.1 1135.2,534.1 1119.7,534.1 1104.2,534.1 1088.7,534.1 1073.2,534.1 1057.7,534.1 1042.2,534.1 1026.7,534.1 1011.1,491.1 995.6,491.0 980.1,490.6 964.6,490.0 949.1,489.6 933.6,523.4 918.1,523.4 902.6,523.4 887.1,523.4 871.5,532.0 856.0,544.1 840.5,544.1 825.0,512.7 809.5,512.7 794.0,512.7 778.5,512.7 763.0,512.7 747.5,498.5 732.0,494.2 716.5,483.3 700.9,481.6 685.4,505.9 669.9,505.9 654.4,512.8 638.9,516.2 623.4,527.0 607.9,527.0 592.4,529.0 576.9,539.8 561.4,543.2 545.8,559.5 530.3,568.1 514.8,546.5 499.3,546.5 483.8,546.5 468.3,546.5 452.8,546.5 437.3,546.3 421.8,543.5 406.2,543.5 390.7,543.5 375.2,543.5 359.7,543.5 344.2,537.5 328.7,531.6 313.2,509.7 297.7,509.7 282.2,545.8 266.7,581.9 251.2,581.9 235.6,581.9 220.1,581.9 204.6,581.9 189.1,581.9 173.6,581.9 158.1,581.7 142.6,586.0 127.1,591.8 111.6,568.8 96.0,568.6 80.5,568.0 65.0,565.3 49.5,565.3 34.0,565.3 18.5,565.3" fill="rgb(40,145,95)" fill-opacity="0.72" clip-path="url(#above)"/>
<g fill="#7f8b7b"><polygon points="111.6,568.8 127.1,578.5 121.1,582.9"/><polygon points="282.2,545.8 266.7,544.6 281.3,547.8"/><polygon points="514.8,546.5 530.3,553.0 519.0,552.3"/><polygon points="700.9,481.6 685.4,491.2 695.7,489.7"/><polygon points="825.0,512.7 840.5,528.0 836.0,534.9"/><polygon points="949.1,489.6 933.6,488.2 944.1,500.5"/><polygon points="1011.1,491.1 1026.7,516.3 1022.3,522.1"/></g>
<polyline points="18.5,565.3 34.0,565.3 49.5,565.3 65.0,565.3 80.5,568.0 96.0,568.6 111.6,568.8 127.1,591.8 142.6,586.0 158.1,581.7 173.6,581.9 189.1,581.9 204.6,581.9 220.1,581.9 235.6,581.9 251.2,581.9 266.7,581.9 282.2,545.8 297.7,509.7 313.2,509.7 328.7,531.6 344.2,537.5 359.7,543.5 375.2,543.5 390.7,543.5 406.2,543.5 421.8,543.5 437.3,546.3 452.8,546.5 468.3,546.5 483.8,546.5 499.3,546.5 514.8,546.5 530.3,568.1 545.8,559.5 561.4,543.2 576.9,539.8 592.4,529.0 607.9,527.0 623.4,527.0 638.9,516.2 654.4,512.8 669.9,505.9 685.4,505.9 700.9,481.6 716.5,483.3 732.0,494.2 747.5,498.5 763.0,512.7 778.5,512.7 794.0,512.7 809.5,512.7 825.0,512.7 840.5,544.1 856.0,544.1 871.5,532.0 887.1,523.4 902.6,523.4 918.1,523.4 933.6,523.4 949.1,489.6 964.6,490.0 980.1,490.6 995.6,491.0 1011.1,491.1 1026.7,534.1 1042.2,534.1 1057.7,534.1 1073.2,534.1 1088.7,534.1 1104.2,534.1 1119.7,534.1 1135.2,534.1 1150.7,534.1 1166.2,533.4 1181.8,524.8 1197.3,510.0 1212.8,500.4 1228.3,500.4 1243.8,467.0 1259.3,461.0 1274.8,460.9 1290.3,460.9 1305.8,460.9 1321.3,460.9 1336.8,460.9 1352.4,460.9 1367.9,441.2 1383.4,429.8 1398.9,411.3" fill="none" stroke="#2f9461" stroke-width="2"/>
</g>
<line x1="18" y1="470" x2="1438" y2="470" stroke="#ff0000" stroke-opacity="0.58" stroke-width="2"/>
<rect x="592.2" y="474" width="651.8" height="96.8" fill="none" stroke="#2f2f94" stroke-width="3.6"/>
<line x1="142.6" y1="564" x2="173.6" y2="564" stroke="#ff0000" stroke-width="2.4"/>
<line x1="204.6" y1="563.7" x2="235.6" y2="563.7" stroke="#ff0000" stroke-width="2.4"/>
<line x1="266.7" y1="560.8" x2="297.7" y2="560.8" stroke="#ff0000" stroke-width="2.4"/>
<line x1="297.7" y1="563.5" x2="328.7" y2="563.5" stroke="#ff0000" stroke-width="2.4"/>
<line x1="483.8" y1="564" x2="514.8" y2="564" stroke="#ff0000" stroke-width="2.4"/>
<line x1="607.9" y1="487.8" x2="638.9" y2="487.8" stroke="#ff0000" stroke-width="2.4"/>
<line x1="669.9" y1="485.9" x2="700.9" y2="485.9" stroke="#ff0000" stroke-width="2.4"/>
<line x1="700.9" y1="525.8" x2="732.0" y2="525.8" stroke="#ff0000" stroke-width="2.4"/>
<line x1="732.0" y1="550" x2="763.0" y2="550" stroke="#ff0000" stroke-width="2.4"/>
<line x1="887.1" y1="503.7" x2="918.1" y2="503.7" stroke="#ff0000" stroke-width="2.4"/>
<line x1="918.1" y1="514.6" x2="949.1" y2="514.6" stroke="#ff0000" stroke-width="2.4"/>
<line x1="1104.2" y1="506.3" x2="1135.2" y2="506.3" stroke="#ff0000" stroke-width="2.4"/>
<line x1="1290.3" y1="431.8" x2="1321.3" y2="431.8" stroke="#ff0000" stroke-width="2.4"/>
<rect x="270.6" y="564.7" width="21" height="21" rx="3.8" fill="#ff0000"/>
<text x="274.5" y="579.2" class="hp" textLength="13.4" lengthAdjust="spacingAndGlyphs">HP</text>
<rect x="363.9" y="597.9" width="21" height="21" rx="3.8" fill="#ff0000"/>
<text x="367.8" y="612.4" class="hp" textLength="13.4" lengthAdjust="spacingAndGlyphs">HP</text>
<rect x="581.7" y="508.5" width="21" height="21" rx="3.8" fill="#ff0000"/>
<text x="585.6" y="523.0" class="hp" textLength="13.4" lengthAdjust="spacingAndGlyphs">HP</text>
<rect x="860.6" y="520.0" width="21" height="21" rx="3.8" fill="#ff0000"/>
<text x="864.5" y="534.5" class="hp" textLength="13.4" lengthAdjust="spacingAndGlyphs">HP</text>
<rect x="984.9" y="532.8" width="21" height="21" rx="3.8" fill="#ff0000"/>
<text x="988.8" y="547.3" class="hp" textLength="13.4" lengthAdjust="spacingAndGlyphs">HP</text>
<circle cx="592.2" cy="474" r="5.7" fill="#fff" stroke="#000" stroke-width="2"/>
<circle cx="1244" cy="570.8" r="5.7" fill="#fff" stroke="#000" stroke-width="2"/>
<line x1="917.5" y1="22" x2="917.5" y2="653" stroke="#707074" stroke-width="1.2" stroke-dasharray="5 5"/>
<line x1="18" y1="419.4" x2="1434" y2="419.4" stroke="#707074" stroke-width="1.2" stroke-dasharray="5 5"/>
<polygon points="1434,419 1440.2,412.8 1440.2,406.2 1442.4,404 1487,404 1487,434.9 1442.4,434.9 1440.2,432.8 1440.2,425.2" fill="#7d8084"/>
<text x="1464.2" y="423" class="tag" text-anchor="middle">1156.53</text>
<path d="M18.0 832.3V802.0Q18.0 800.0 20.0 800.0H19.8Q21.8 800.0 21.8 802.0V832.3Z" fill="#e84a5f"/>
<path d="M30.0 832.3V830.6Q30.0 829.0 31.7 829.0H36.4Q38.0 829.0 38.0 830.6V832.3Z" fill="#53b788"/>
<path d="M45.5 832.3V831.6Q45.5 831.0 46.2 831.0H52.9Q53.5 831.0 53.5 831.6V832.3Z" fill="#e84a5f"/>
<path d="M61.0 832.3V830.0Q61.0 828.0 63.0 828.0H67.0Q69.0 828.0 69.0 830.0V832.3Z" fill="#53b788"/>
<path d="M92.0 832.3V825.0Q92.0 823.0 94.0 823.0H98.0Q100.0 823.0 100.0 825.0V832.3Z" fill="#53b788"/>
<path d="M123.1 832.3V804.0Q123.1 802.0 125.1 802.0H129.1Q131.1 802.0 131.1 804.0V832.3Z" fill="#53b788"/>
<path d="M138.6 832.3V827.0Q138.6 825.0 140.6 825.0H144.6Q146.6 825.0 146.6 827.0V832.3Z" fill="#e84a5f"/>
<path d="M154.1 832.3V825.0Q154.1 823.0 156.1 823.0H160.1Q162.1 823.0 162.1 825.0V832.3Z" fill="#53b788"/>
<path d="M169.6 832.3V828.0Q169.6 826.0 171.6 826.0H175.6Q177.6 826.0 177.6 828.0V832.3Z" fill="#e84a5f"/>
<path d="M185.1 832.3V830.0Q185.1 828.0 187.1 828.0H191.1Q193.1 828.0 193.1 830.0V832.3Z" fill="#53b788"/>
<path d="M200.6 832.3V831.6Q200.6 831.0 201.3 831.0H208.0Q208.6 831.0 208.6 831.6V832.3Z" fill="#e84a5f"/>
<path d="M231.6 832.3V829.0Q231.6 827.0 233.6 827.0H237.6Q239.6 827.0 239.6 829.0V832.3Z" fill="#e84a5f"/>
<path d="M247.2 832.3V827.0Q247.2 825.0 249.2 825.0H253.2Q255.2 825.0 255.2 827.0V832.3Z" fill="#53b788"/>
<path d="M262.7 832.3V831.6Q262.7 831.0 263.3 831.0H270.0Q270.7 831.0 270.7 831.6V832.3Z" fill="#e84a5f"/>
<path d="M278.2 832.3V810.3Q278.2 808.3 280.2 808.3H284.2Q286.2 808.3 286.2 810.3V832.3Z" fill="#53b788"/>
<path d="M293.7 832.3V801.2Q293.7 799.2 295.7 799.2H299.7Q301.7 799.2 301.7 801.2V832.3Z" fill="#e84a5f"/>
<path d="M309.2 832.3V830.1Q309.2 828.1 311.2 828.1H315.2Q317.2 828.1 317.2 830.1V832.3Z" fill="#53b788"/>
<path d="M324.7 832.3V792.3Q324.7 790.3 326.7 790.3H330.7Q332.7 790.3 332.7 792.3V832.3Z" fill="#e84a5f"/>
<path d="M340.2 832.3V831.1Q340.2 830.0 341.4 830.0H347.1Q348.2 830.0 348.2 831.1V832.3Z" fill="#53b788"/>
<path d="M355.7 832.3V830.6Q355.7 829.0 357.4 829.0H362.1Q363.7 829.0 363.7 830.6V832.3Z" fill="#e84a5f"/>
<path d="M371.2 832.3V828.0Q371.2 826.0 373.2 826.0H377.2Q379.2 826.0 379.2 828.0V832.3Z" fill="#53b788"/>
<path d="M386.7 832.3V825.9Q386.7 823.9 388.7 823.9H392.7Q394.7 823.9 394.7 825.9V832.3Z" fill="#e84a5f"/>
<path d="M402.2 832.3V830.6Q402.2 829.0 403.9 829.0H408.6Q410.2 829.0 410.2 830.6V832.3Z" fill="#53b788"/>
<path d="M433.3 832.3V824.2Q433.3 822.2 435.3 822.2H439.3Q441.3 822.2 441.3 824.2V832.3Z" fill="#53b788"/>
<path d="M464.3 832.3V823.0Q464.3 821.0 466.3 821.0H470.3Q472.3 821.0 472.3 823.0V832.3Z" fill="#53b788"/>
<path d="M495.3 832.3V829.2Q495.3 827.2 497.3 827.2H501.3Q503.3 827.2 503.3 829.2V832.3Z" fill="#53b788"/>
<path d="M510.8 832.3V822.0Q510.8 820.0 512.8 820.0H516.8Q518.8 820.0 518.8 822.0V832.3Z" fill="#e84a5f"/>
<path d="M526.3 832.3V797.3Q526.3 795.3 528.3 795.3H532.3Q534.3 795.3 534.3 797.3V832.3Z" fill="#53b788"/>
<path d="M541.8 832.3V831.6Q541.8 831.0 542.5 831.0H549.2Q549.8 831.0 549.8 831.6V832.3Z" fill="#e84a5f"/>
<path d="M557.4 832.3V816.1Q557.4 814.1 559.4 814.1H563.4Q565.4 814.1 565.4 816.1V832.3Z" fill="#53b788"/>
<path d="M572.9 832.3V830.6Q572.9 829.0 574.5 829.0H579.2Q580.9 829.0 580.9 830.6V832.3Z" fill="#e84a5f"/>
<path d="M588.4 832.3V804.0Q588.4 802.0 590.4 802.0H594.4Q596.4 802.0 596.4 804.0V832.3Z" fill="#53b788"/>
<path d="M603.9 832.3V823.0Q603.9 821.0 605.9 821.0H609.9Q611.9 821.0 611.9 823.0V832.3Z" fill="#e84a5f"/>
<path d="M619.4 832.3V830.6Q619.4 829.0 621.0 829.0H625.7Q627.4 829.0 627.4 830.6V832.3Z" fill="#53b788"/>
<path d="M634.9 832.3V825.0Q634.9 823.0 636.9 823.0H640.9Q642.9 823.0 642.9 825.0V832.3Z" fill="#e84a5f"/>
<path d="M650.4 832.3V829.2Q650.4 827.2 652.4 827.2H656.4Q658.4 827.2 658.4 829.2V832.3Z" fill="#53b788"/>
<path d="M665.9 832.3V831.1Q665.9 830.0 667.1 830.0H672.8Q673.9 830.0 673.9 831.1V832.3Z" fill="#e84a5f"/>
<path d="M681.4 832.3V831.6Q681.4 831.0 682.1 831.0H688.8Q689.4 831.0 689.4 831.6V832.3Z" fill="#53b788"/>
<path d="M696.9 832.3V788.9Q696.9 786.9 698.9 786.9H702.9Q704.9 786.9 704.9 788.9V832.3Z" fill="#e84a5f"/>
<path d="M712.5 832.3V820.0Q712.5 818.0 714.5 818.0H718.5Q720.5 818.0 720.5 820.0V832.3Z" fill="#53b788"/>
<path d="M728.0 832.3V794.0Q728.0 792.0 730.0 792.0H734.0Q736.0 792.0 736.0 794.0V832.3Z" fill="#e84a5f"/>
<path d="M743.5 832.3V830.6Q743.5 829.0 745.1 829.0H749.8Q751.5 829.0 751.5 830.6V832.3Z" fill="#53b788"/>
<path d="M759.0 832.3V800.3Q759.0 798.3 761.0 798.3H765.0Q767.0 798.3 767.0 800.3V832.3Z" fill="#e84a5f"/>
<path d="M774.5 832.3V804.0Q774.5 802.0 776.5 802.0H780.5Q782.5 802.0 782.5 804.0V832.3Z" fill="#53b788"/>
<path d="M805.5 832.3V831.6Q805.5 831.0 806.2 831.0H812.9Q813.5 831.0 813.5 831.6V832.3Z" fill="#53b788"/>
<path d="M821.0 832.3V831.6Q821.0 831.0 821.7 831.0H828.4Q829.0 831.0 829.0 831.6V832.3Z" fill="#e84a5f"/>
<path d="M836.5 832.3V813.3Q836.5 811.3 838.5 811.3H842.5Q844.5 811.3 844.5 813.3V832.3Z" fill="#53b788"/>
<path d="M852.0 832.3V830.6Q852.0 829.0 853.7 829.0H858.4Q860.0 829.0 860.0 830.6V832.3Z" fill="#e84a5f"/>
<path d="M867.5 832.3V791.1Q867.5 789.1 869.5 789.1H873.5Q875.5 789.1 875.5 791.1V832.3Z" fill="#53b788"/>
<path d="M883.1 832.3V817.1Q883.1 815.1 885.1 815.1H889.1Q891.1 815.1 891.1 817.1V832.3Z" fill="#e84a5f"/>
<path d="M898.6 832.3V830.6Q898.6 829.0 900.2 829.0H904.9Q906.6 829.0 906.6 830.6V832.3Z" fill="#53b788"/>
<path d="M914.1 832.3V818.3Q914.1 816.3 916.1 816.3H920.1Q922.1 816.3 922.1 818.3V832.3Z" fill="#e84a5f"/>
<path d="M945.1 832.3V814.1Q945.1 812.1 947.1 812.1H951.1Q953.1 812.1 953.1 814.1V832.3Z" fill="#e84a5f"/>
<path d="M960.6 832.3V815.3Q960.6 813.3 962.6 813.3H966.6Q968.6 813.3 968.6 815.3V832.3Z" fill="#53b788"/>
<path d="M976.1 832.3V827.0Q976.1 825.0 978.1 825.0H982.1Q984.1 825.0 984.1 827.0V832.3Z" fill="#e84a5f"/>
<path d="M991.6 832.3V811.3Q991.6 809.3 993.6 809.3H997.6Q999.6 809.3 999.6 811.3V832.3Z" fill="#53b788"/>
<path d="M1007.1 832.3V825.0Q1007.1 823.0 1009.1 823.0H1013.1Q1015.1 823.0 1015.1 825.0V832.3Z" fill="#e84a5f"/>
<path d="M1022.7 832.3V812.1Q1022.7 810.1 1024.7 810.1H1028.7Q1030.7 810.1 1030.7 812.1V832.3Z" fill="#53b788"/>
<path d="M1038.2 832.3V801.2Q1038.2 799.2 1040.2 799.2H1044.2Q1046.2 799.2 1046.2 801.2V832.3Z" fill="#e84a5f"/>
<path d="M1053.7 832.3V807.0Q1053.7 805.0 1055.7 805.0H1059.7Q1061.7 805.0 1061.7 807.0V832.3Z" fill="#53b788"/>
<path d="M1069.2 832.3V821.2Q1069.2 819.2 1071.2 819.2H1075.2Q1077.2 819.2 1077.2 821.2V832.3Z" fill="#e84a5f"/>
<path d="M1084.7 832.3V821.2Q1084.7 819.2 1086.7 819.2H1090.7Q1092.7 819.2 1092.7 821.2V832.3Z" fill="#53b788"/>
<path d="M1100.2 832.3V822.0Q1100.2 820.0 1102.2 820.0H1106.2Q1108.2 820.0 1108.2 822.0V832.3Z" fill="#e84a5f"/>
<path d="M1115.7 832.3V830.1Q1115.7 828.1 1117.7 828.1H1121.7Q1123.7 828.1 1123.7 830.1V832.3Z" fill="#53b788"/>
<path d="M1131.2 832.3V815.3Q1131.2 813.3 1133.2 813.3H1137.2Q1139.2 813.3 1139.2 815.3V832.3Z" fill="#e84a5f"/>
<path d="M1146.7 832.3V827.0Q1146.7 825.0 1148.7 825.0H1152.7Q1154.7 825.0 1154.7 827.0V832.3Z" fill="#53b788"/>
<path d="M1162.2 832.3V826.0Q1162.2 824.0 1164.2 824.0H1168.2Q1170.2 824.0 1170.2 826.0V832.3Z" fill="#e84a5f"/>
<path d="M1177.8 832.3V800.3Q1177.8 798.3 1179.8 798.3H1183.8Q1185.8 798.3 1185.8 800.3V832.3Z" fill="#53b788"/>
<path d="M1193.3 832.3V828.0Q1193.3 826.0 1195.3 826.0H1199.3Q1201.3 826.0 1201.3 828.0V832.3Z" fill="#e84a5f"/>
<path d="M1208.8 832.3V818.5Q1208.8 816.5 1210.8 816.5H1214.8Q1216.8 816.5 1216.8 818.5V832.3Z" fill="#53b788"/>
<path d="M1224.3 832.3V825.4Q1224.3 823.4 1226.3 823.4H1230.3Q1232.3 823.4 1232.3 825.4V832.3Z" fill="#e84a5f"/>
<path d="M1239.8 832.3V689.6Q1239.8 687.6 1241.8 687.6H1245.8Q1247.8 687.6 1247.8 689.6V832.3Z" fill="#53b788"/>
<path d="M1255.3 832.3V768.3Q1255.3 766.3 1257.3 766.3H1261.3Q1263.3 766.3 1263.3 768.3V832.3Z" fill="#e84a5f"/>
<path d="M1270.8 832.3V815.1Q1270.8 813.1 1272.8 813.1H1276.8Q1278.8 813.1 1278.8 815.1V832.3Z" fill="#53b788"/>
<path d="M1286.3 832.3V813.3Q1286.3 811.3 1288.3 811.3H1292.3Q1294.3 811.3 1294.3 813.3V832.3Z" fill="#e84a5f"/>
<path d="M1301.8 832.3V830.6Q1301.8 829.0 1303.5 829.0H1308.2Q1309.8 829.0 1309.8 830.6V832.3Z" fill="#53b788"/>
<path d="M1317.3 832.3V767.2Q1317.3 765.2 1319.3 765.2H1323.3Q1325.3 765.2 1325.3 767.2V832.3Z" fill="#e84a5f"/>
<path d="M1332.8 832.3V816.2Q1332.8 814.2 1334.8 814.2H1338.8Q1340.8 814.2 1340.8 816.2V832.3Z" fill="#53b788"/>
<path d="M1348.4 832.3V831.6Q1348.4 830.9 1349.1 830.9H1355.7Q1356.4 830.9 1356.4 831.6V832.3Z" fill="#e84a5f"/>
<path d="M1363.9 832.3V718.1Q1363.9 716.1 1365.9 716.1H1369.9Q1371.9 716.1 1371.9 718.1V832.3Z" fill="#53b788"/>
<path d="M1379.4 832.3V826.5Q1379.4 824.5 1381.4 824.5H1385.4Q1387.4 824.5 1387.4 826.5V832.3Z" fill="#e84a5f"/>
<path d="M1394.9 832.3V716.6Q1394.9 714.6 1396.9 714.6H1400.9Q1402.9 714.6 1402.9 716.6V832.3Z" fill="#53b788"/>
<line x1="917.5" y1="670" x2="917.5" y2="832.5" stroke="#707074" stroke-width="1.2" stroke-dasharray="5 5"/>
<g style="mix-blend-mode:darken" fill="#e8008a" fill-rule="evenodd"><path d="M1223.9,673.6 L1223.9,661.7 L1227.5,658.5 L1235.2,658.2 L1241.8,660.8 L1248.3,664.4 L1252.4,668.8 L1256.6,676.6 L1259.6,684.9 L1260.8,695.6 L1261,704 L1261,720.6 L1259.6,725.4 L1256,734.9 L1253.6,744.4 L1251.3,747.9 L1244.7,752.1 L1240.6,753.9 L1235.2,753 L1232.3,746.8 L1230.2,737.3 L1230.2,671.2 L1228.1,673.6 Z M1233.7,670.6 L1241.8,674.2 L1247.1,678.3 L1251.3,684.9 L1254.8,692.6 L1256.6,700.3 L1257.2,708.8 L1256,714.1 L1251.3,729.5 L1247.7,736.1 L1241.8,739.6 L1238.8,740.8 L1234.6,729.5 L1234,724.8 Z"/><path d="M1340.7,700.2 L1353.1,701.6 L1364.5,704.9 L1374,709.7 L1381.6,714.4 L1384.9,718.2 L1385.9,722.5 L1385.9,730 L1385.4,734.7 L1382.5,741.9 L1378.7,753.7 L1376.4,764.2 L1374,766.6 L1360.7,766.8 L1357.4,764.2 L1355,757.5 L1352.6,745.7 L1351.9,730 L1352.6,714.4 L1340.7,711.6 Z M1356.9,715.8 L1364.5,718.2 L1371.6,722 L1380.2,728.2 L1379.7,730 L1377.3,739.5 L1374,750 L1371.6,754.7 L1364,755.2 L1362.1,754.2 L1358.8,745.7 L1356.4,733.8 Z"/><path d="M1378.9,694 L1392,694.3 L1405.4,695.1 L1410.7,697 L1415,701.8 L1418.2,707.6 L1419.8,714 L1420.1,735 L1420,756.9 L1418.8,764.7 L1415.8,768.2 L1402.7,774.8 L1398.6,776.2 L1393.2,776.2 L1390.8,773.6 L1387.9,760.5 L1387,749.8 L1387,705.8 L1378.9,705.8 Z M1391,706.3 L1400,707.1 L1405.9,708.2 L1410.7,712.4 L1414.5,719.9 L1416,726.3 L1416.1,746.8 L1415.2,752.8 L1412.2,756.3 L1402.7,761.4 L1396.2,764.7 L1393.8,756.9 L1391.1,743.9 Z"/></g>
</svg>

<div class="abs" style="left:0;top:-9.5px;font-size:11.5px;line-height:13.8px;color:#222;">
 <span class="abs" style="left:406px">Chart</span><span class="abs" style="left:499px">Indicators</span><span class="abs" style="left:613px">Patterns</span><span class="abs" style="left:717px">Auto Tools</span><span class="abs" style="left:835px">Save Chart</span><span class="abs" style="left:955px">Template</span><span class="abs" style="left:1068px">Apps</span><span class="abs" style="left:1156px">Layout</span><span class="abs" style="left:1255px">Reports</span>
</div>
<div class="abs" style="left:1468px;top:-1px;width:11px;height:2.2px;border-radius:1px;background:#0a5bd6"></div>
<div class="abs" style="left:20px;top:12.7px;width:24.3px;height:24.3px;border-radius:50%;background:#2070d8;color:#fff;font-weight:bold;font-size:13px;line-height:24.3px;text-align:center">C</div>
<div class="abs" style="left:53px;top:16.5px;font-size:12.5px;font-weight:bold;color:#333;line-height:15px;letter-spacing:-0.55px">COPPER-II</div>
<div class="abs" style="left:123px;top:17px;font-size:12.5px;color:#333;line-height:15px;letter-spacing:-0.55px">(0.1% x 3)</div>
<div class="abs" style="left:180.3px;top:17px;font-size:12.5px;color:#50b596;line-height:15px;letter-spacing:-0.55px">CMP: 1180.05 (26.75, 2.32%)</div>
<div class="abs" style="left:335.5px;top:12.4px;width:57px;height:20px;border:1px solid #cfcfcf;border-radius:3px;background:#fff"></div>
<div class="abs" style="left:341.5px;top:16px;font-size:13.5px;color:#2f6fd0;line-height:18px">1 Min</div>
<svg class="abs" style="left:382px;top:19px" width="10" height="8"><polyline points="1.5,2 4.5,5 7.5,2" fill="none" stroke="#d99a1e" stroke-width="1.5"/></svg>
<svg class="abs" style="left:400.8px;top:13.8px" width="20" height="20" viewBox="-10 -10 20 20"><g fill="#333"><rect x="-1.9" y="-8.1" width="3.8" height="4" rx="0.5" transform="rotate(0)"/><rect x="-1.9" y="-8.1" width="3.8" height="4" rx="0.5" transform="rotate(60)"/><rect x="-1.9" y="-8.1" width="3.8" height="4" rx="0.5" transform="rotate(120)"/><rect x="-1.9" y="-8.1" width="3.8" height="4" rx="0.5" transform="rotate(180)"/><rect x="-1.9" y="-8.1" width="3.8" height="4" rx="0.5" transform="rotate(240)"/><rect x="-1.9" y="-8.1" width="3.8" height="4" rx="0.5" transform="rotate(300)"/><circle r="6.2"/></g><circle r="3.5" fill="none" stroke="#fff" stroke-width="1.6"/></svg>
<div class="abs" style="left:429px;top:12px;width:35px;height:22px;border-radius:4px;background:#3068b6;color:#fff;font-size:13px;line-height:22px;text-align:center">B</div>
<div class="abs" style="left:470px;top:12px;width:34px;height:22px;border-radius:4px;background:#ec4259;color:#fff;font-size:13px;line-height:22px;text-align:center">S</div>
<div class="abs" style="left:19px;top:43.5px;font-size:12px;line-height:14px;color:#333;letter-spacing:-0.11px">H: <span class="g">1123.82</span> L: <span class="r">1117.10</span>, Cnt: 7 H Dt: <span class="g">15/12/2025 21:34</span> L Dt: <span class="r">15/12/2025 22:08</span></div>
<svg class="abs" style="left:428px;top:45px" width="20" height="18" viewBox="428 45 20 18"><path d="M431.8 47.6H444.4Q445.6 47.6 445.6 48.8V55.4L444.3 56.8H443.6L443.4 60.3L438.8 56.8H431.8Q430.6 56.8 430.6 55.6V48.8Q430.6 47.6 431.8 47.6Z" fill="none" stroke="#4a4a4a" stroke-width="1.2" stroke-linejoin="round"/><path d="M434 49.7H441.3M435 52H442M434 54.4H440.5" stroke="#555" stroke-width="1"/></svg>
<div class="abs" style="left:19.5px;top:64.5px;font-size:12px;line-height:14px;color:#333;letter-spacing:-0.42px">DTB: <span class="g">1126.07</span> DBS: <span class="r">0.00</span> HP: <span class="r">0.00</span> LP: <span class="g">0.00</span> CR: <span class="g">1120.45</span> CB: <span class="r">1115.98</span> CL: <span class="r">-0.70%</span></div>
<svg class="abs" style="left:23px;top:84px" width="11" height="12"><polygon points="0,0 10.2,5.5 0,11" fill="#666"/></svg>
<div class="abs" style="left:41.5px;top:83.5px;font-size:12px;line-height:14px;color:#333">Patterns &amp; Auto Tools(Click to view/hide)</div>
<svg class="abs" style="left:23px;top:104px" width="11" height="12"><polygon points="0,0 10.2,5.5 0,11" fill="#666"/></svg>
<div class="abs" style="left:41.5px;top:103.5px;font-size:12px;line-height:14px;color:#333">Indicators(Click to view/hide)</div>
<div class="abs" style="left:0;top:395px;width:7px;height:30px;background:#27292f;border-radius:0 5px 5px 0"></div>
<svg class="abs" style="left:0px;top:404px" width="7" height="12"><polygon points="5,2 2,5.5 5,9" fill="#2a2ae6" stroke="#c8c8ff" stroke-width="0.4"/></svg>
<div class="abs" style="left:700px;top:42px;width:96px;height:27px;background:#fff;box-shadow:0 1px 3px rgba(0,0,0,0.25)"></div><div class="abs" style="left:700px;top:42px;width:29.6px;height:27px;background:#cacaca"></div><div class="abs" style="left:762px;top:42px;width:1px;height:27px;background:#c4c4c4"></div><div class="abs" style="left:795px;top:42px;width:1px;height:27px;background:#c4c4c4"></div><div class="abs" style="left:701.4px;top:44.7px;width:19px;height:14px;border:2.2px solid #333;background:#c8c8c8"></div><svg class="abs" style="left:732px;top:46px" width="20" height="20" viewBox="-10 -10 20 20"><g fill="#333"><rect x="-1.9" y="-8.1" width="3.8" height="4" rx="0.5" transform="rotate(0)"/><rect x="-1.9" y="-8.1" width="3.8" height="4" rx="0.5" transform="rotate(60)"/><rect x="-1.9" y="-8.1" width="3.8" height="4" rx="0.5" transform="rotate(120)"/><rect x="-1.9" y="-8.1" width="3.8" height="4" rx="0.5" transform="rotate(180)"/><rect x="-1.9" y="-8.1" width="3.8" height="4" rx="0.5" transform="rotate(240)"/><rect x="-1.9" y="-8.1" width="3.8" height="4" rx="0.5" transform="rotate(300)"/><circle r="6.2"/></g><circle r="3.5" fill="none" stroke="#fff" stroke-width="1.6"/></svg><svg class="abs" style="left:767px;top:46.5px" width="16" height="17" viewBox="0 0 16 17"><path d="M1 3.2H15" stroke="#333" stroke-width="1.6"/><path d="M5.5 3V1.3H10.5V3" fill="#333"/><path d="M2.6 4.5L3.6 15.2Q3.8 16 4.6 16H11.4Q12.2 16 12.4 15.2L13.4 4.5" fill="none" stroke="#333" stroke-width="1.5"/><path d="M6.2 6V13.2M9.8 6V13.2" stroke="#333" stroke-width="1.3"/></svg>
<div class="abs" style="left:19px;top:675px;font-size:12px;line-height:14px;color:#333">Volume</div>
<svg class="abs" style="left:66px;top:676px" width="20" height="14" viewBox="0 0 20 14"><path d="M1.2 7Q10 -2.5 18.8 7Q10 16.5 1.2 7Z" fill="none" stroke="#333" stroke-width="1.5"/><circle cx="10" cy="7" r="2.8" fill="none" stroke="#333" stroke-width="1.5"/></svg>
<svg class="abs" style="left:92.6px;top:672.1px" width="20" height="20" viewBox="-10 -10 20 20"><g fill="#333"><rect x="-1.9" y="-8.1" width="3.8" height="4" rx="0.5" transform="rotate(0)"/><rect x="-1.9" y="-8.1" width="3.8" height="4" rx="0.5" transform="rotate(60)"/><rect x="-1.9" y="-8.1" width="3.8" height="4" rx="0.5" transform="rotate(120)"/><rect x="-1.9" y="-8.1" width="3.8" height="4" rx="0.5" transform="rotate(180)"/><rect x="-1.9" y="-8.1" width="3.8" height="4" rx="0.5" transform="rotate(240)"/><rect x="-1.9" y="-8.1" width="3.8" height="4" rx="0.5" transform="rotate(300)"/><circle r="6.2"/></g><circle r="3.5" fill="none" stroke="#fff" stroke-width="1.6"/></svg>
<svg class="abs" style="left:123px;top:674px" width="16" height="17" viewBox="0 0 16 17"><path d="M1 3.2H15" stroke="#333" stroke-width="1.6"/><path d="M5.5 3V1.3H10.5V3" fill="#333"/><path d="M2.6 4.5L3.6 15.2Q3.8 16 4.6 16H11.4Q12.2 16 12.4 15.2L13.4 4.5" fill="none" stroke="#333" stroke-width="1.5"/><path d="M6.2 6V13.2M9.8 6V13.2" stroke="#333" stroke-width="1.3"/></svg>
<div class="abs" style="left:149.5px;top:675px;font-size:12px;line-height:14px;color:#333">Vol : <b style="color:#52b788">104.00</b></div>

</body></html>
